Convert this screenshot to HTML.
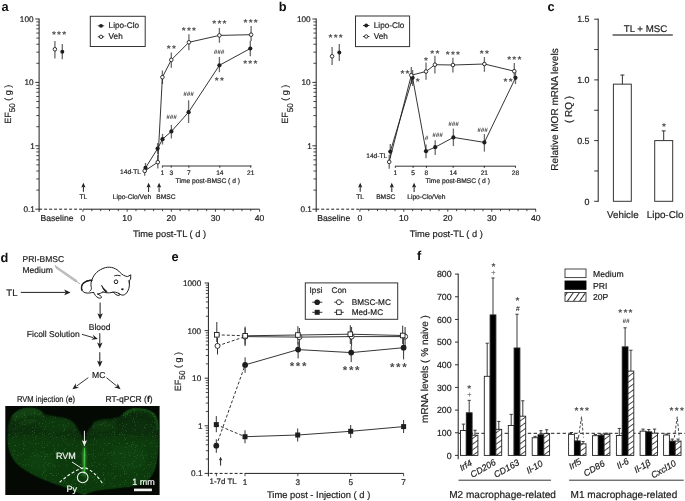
<!DOCTYPE html>
<html><head><meta charset="utf-8"><title>Figure</title>
<style>html,body{margin:0;padding:0;background:#fff;} svg{display:block;font-family:"Liberation Sans",Arial,sans-serif;text-rendering:geometricPrecision;}</style></head>
<body><svg width="685" height="501" viewBox="0 0 685 501">
<rect width="685" height="501" fill="#fff"/>
<text x="1.40" y="10.60" font-size="12.8" text-anchor="start" font-weight="bold" font-style="normal" fill="#111">a</text>
<line x1="39.10" y1="18.50" x2="39.10" y2="212.00" stroke="#1e1e1e" stroke-width="1.0" stroke-linecap="butt"/>
<line x1="36.30" y1="190.11" x2="39.10" y2="190.11" stroke="#1e1e1e" stroke-width="0.8" stroke-linecap="butt"/>
<line x1="36.30" y1="178.95" x2="39.10" y2="178.95" stroke="#1e1e1e" stroke-width="0.8" stroke-linecap="butt"/>
<line x1="36.30" y1="171.03" x2="39.10" y2="171.03" stroke="#1e1e1e" stroke-width="0.8" stroke-linecap="butt"/>
<line x1="36.30" y1="164.89" x2="39.10" y2="164.89" stroke="#1e1e1e" stroke-width="0.8" stroke-linecap="butt"/>
<line x1="36.30" y1="159.87" x2="39.10" y2="159.87" stroke="#1e1e1e" stroke-width="0.8" stroke-linecap="butt"/>
<line x1="36.30" y1="155.62" x2="39.10" y2="155.62" stroke="#1e1e1e" stroke-width="0.8" stroke-linecap="butt"/>
<line x1="36.30" y1="151.94" x2="39.10" y2="151.94" stroke="#1e1e1e" stroke-width="0.8" stroke-linecap="butt"/>
<line x1="36.30" y1="148.70" x2="39.10" y2="148.70" stroke="#1e1e1e" stroke-width="0.8" stroke-linecap="butt"/>
<line x1="36.30" y1="126.71" x2="39.10" y2="126.71" stroke="#1e1e1e" stroke-width="0.8" stroke-linecap="butt"/>
<line x1="36.30" y1="115.55" x2="39.10" y2="115.55" stroke="#1e1e1e" stroke-width="0.8" stroke-linecap="butt"/>
<line x1="36.30" y1="107.63" x2="39.10" y2="107.63" stroke="#1e1e1e" stroke-width="0.8" stroke-linecap="butt"/>
<line x1="36.30" y1="101.49" x2="39.10" y2="101.49" stroke="#1e1e1e" stroke-width="0.8" stroke-linecap="butt"/>
<line x1="36.30" y1="96.47" x2="39.10" y2="96.47" stroke="#1e1e1e" stroke-width="0.8" stroke-linecap="butt"/>
<line x1="36.30" y1="92.22" x2="39.10" y2="92.22" stroke="#1e1e1e" stroke-width="0.8" stroke-linecap="butt"/>
<line x1="36.30" y1="88.54" x2="39.10" y2="88.54" stroke="#1e1e1e" stroke-width="0.8" stroke-linecap="butt"/>
<line x1="36.30" y1="85.30" x2="39.10" y2="85.30" stroke="#1e1e1e" stroke-width="0.8" stroke-linecap="butt"/>
<line x1="36.30" y1="63.31" x2="39.10" y2="63.31" stroke="#1e1e1e" stroke-width="0.8" stroke-linecap="butt"/>
<line x1="36.30" y1="52.15" x2="39.10" y2="52.15" stroke="#1e1e1e" stroke-width="0.8" stroke-linecap="butt"/>
<line x1="36.30" y1="44.23" x2="39.10" y2="44.23" stroke="#1e1e1e" stroke-width="0.8" stroke-linecap="butt"/>
<line x1="36.30" y1="38.09" x2="39.10" y2="38.09" stroke="#1e1e1e" stroke-width="0.8" stroke-linecap="butt"/>
<line x1="36.30" y1="33.07" x2="39.10" y2="33.07" stroke="#1e1e1e" stroke-width="0.8" stroke-linecap="butt"/>
<line x1="36.30" y1="28.82" x2="39.10" y2="28.82" stroke="#1e1e1e" stroke-width="0.8" stroke-linecap="butt"/>
<line x1="36.30" y1="25.14" x2="39.10" y2="25.14" stroke="#1e1e1e" stroke-width="0.8" stroke-linecap="butt"/>
<line x1="36.30" y1="21.90" x2="39.10" y2="21.90" stroke="#1e1e1e" stroke-width="0.8" stroke-linecap="butt"/>
<line x1="35.30" y1="19.00" x2="39.10" y2="19.00" stroke="#1e1e1e" stroke-width="0.9" stroke-linecap="butt"/>
<text x="33.50" y="21.90" font-size="8.2" text-anchor="end" font-weight="normal" font-style="normal" fill="#1e1e1e" stroke="#1e1e1e" stroke-width="0.2">100</text>
<line x1="35.30" y1="82.40" x2="39.10" y2="82.40" stroke="#1e1e1e" stroke-width="0.9" stroke-linecap="butt"/>
<text x="33.50" y="85.30" font-size="8.2" text-anchor="end" font-weight="normal" font-style="normal" fill="#1e1e1e" stroke="#1e1e1e" stroke-width="0.2">10</text>
<line x1="35.30" y1="145.80" x2="39.10" y2="145.80" stroke="#1e1e1e" stroke-width="0.9" stroke-linecap="butt"/>
<text x="34.80" y="148.70" font-size="8.2" text-anchor="end" font-weight="normal" font-style="normal" fill="#1e1e1e" stroke="#1e1e1e" stroke-width="0.2">1</text>
<line x1="35.30" y1="209.20" x2="39.10" y2="209.20" stroke="#1e1e1e" stroke-width="0.9" stroke-linecap="butt"/>
<text x="34.80" y="212.10" font-size="8.2" text-anchor="end" font-weight="normal" font-style="normal" fill="#1e1e1e" stroke="#1e1e1e" stroke-width="0.2">0.1</text>
<line x1="39.10" y1="209.20" x2="83.00" y2="209.20" stroke="#1e1e1e" stroke-width="1.0" stroke-dasharray="3,2" stroke-linecap="butt"/>
<line x1="83.00" y1="209.20" x2="259.60" y2="209.20" stroke="#1e1e1e" stroke-width="1.0" stroke-linecap="butt"/>
<line x1="83.00" y1="209.20" x2="83.00" y2="211.80" stroke="#1e1e1e" stroke-width="0.8" stroke-linecap="butt"/>
<line x1="91.83" y1="209.20" x2="91.83" y2="211.20" stroke="#1e1e1e" stroke-width="0.8" stroke-linecap="butt"/>
<line x1="100.66" y1="209.20" x2="100.66" y2="211.20" stroke="#1e1e1e" stroke-width="0.8" stroke-linecap="butt"/>
<line x1="109.49" y1="209.20" x2="109.49" y2="211.20" stroke="#1e1e1e" stroke-width="0.8" stroke-linecap="butt"/>
<line x1="118.32" y1="209.20" x2="118.32" y2="211.20" stroke="#1e1e1e" stroke-width="0.8" stroke-linecap="butt"/>
<line x1="127.15" y1="209.20" x2="127.15" y2="211.80" stroke="#1e1e1e" stroke-width="0.8" stroke-linecap="butt"/>
<line x1="135.98" y1="209.20" x2="135.98" y2="211.20" stroke="#1e1e1e" stroke-width="0.8" stroke-linecap="butt"/>
<line x1="144.81" y1="209.20" x2="144.81" y2="211.20" stroke="#1e1e1e" stroke-width="0.8" stroke-linecap="butt"/>
<line x1="153.64" y1="209.20" x2="153.64" y2="211.20" stroke="#1e1e1e" stroke-width="0.8" stroke-linecap="butt"/>
<line x1="162.47" y1="209.20" x2="162.47" y2="211.20" stroke="#1e1e1e" stroke-width="0.8" stroke-linecap="butt"/>
<line x1="171.30" y1="209.20" x2="171.30" y2="211.80" stroke="#1e1e1e" stroke-width="0.8" stroke-linecap="butt"/>
<line x1="180.13" y1="209.20" x2="180.13" y2="211.20" stroke="#1e1e1e" stroke-width="0.8" stroke-linecap="butt"/>
<line x1="188.96" y1="209.20" x2="188.96" y2="211.20" stroke="#1e1e1e" stroke-width="0.8" stroke-linecap="butt"/>
<line x1="197.79" y1="209.20" x2="197.79" y2="211.20" stroke="#1e1e1e" stroke-width="0.8" stroke-linecap="butt"/>
<line x1="206.62" y1="209.20" x2="206.62" y2="211.20" stroke="#1e1e1e" stroke-width="0.8" stroke-linecap="butt"/>
<line x1="215.45" y1="209.20" x2="215.45" y2="211.80" stroke="#1e1e1e" stroke-width="0.8" stroke-linecap="butt"/>
<line x1="224.28" y1="209.20" x2="224.28" y2="211.20" stroke="#1e1e1e" stroke-width="0.8" stroke-linecap="butt"/>
<line x1="233.11" y1="209.20" x2="233.11" y2="211.20" stroke="#1e1e1e" stroke-width="0.8" stroke-linecap="butt"/>
<line x1="241.94" y1="209.20" x2="241.94" y2="211.20" stroke="#1e1e1e" stroke-width="0.8" stroke-linecap="butt"/>
<line x1="250.77" y1="209.20" x2="250.77" y2="211.20" stroke="#1e1e1e" stroke-width="0.8" stroke-linecap="butt"/>
<line x1="259.60" y1="209.20" x2="259.60" y2="211.80" stroke="#1e1e1e" stroke-width="0.8" stroke-linecap="butt"/>
<text x="83.00" y="221.20" font-size="8.6" text-anchor="middle" font-weight="normal" font-style="normal" fill="#1e1e1e" stroke="#1e1e1e" stroke-width="0.2">0</text>
<text x="127.15" y="221.20" font-size="8.6" text-anchor="middle" font-weight="normal" font-style="normal" fill="#1e1e1e" stroke="#1e1e1e" stroke-width="0.2">10</text>
<text x="171.30" y="221.20" font-size="8.6" text-anchor="middle" font-weight="normal" font-style="normal" fill="#1e1e1e" stroke="#1e1e1e" stroke-width="0.2">20</text>
<text x="215.45" y="221.20" font-size="8.6" text-anchor="middle" font-weight="normal" font-style="normal" fill="#1e1e1e" stroke="#1e1e1e" stroke-width="0.2">30</text>
<text x="259.60" y="221.20" font-size="8.6" text-anchor="middle" font-weight="normal" font-style="normal" fill="#1e1e1e" stroke="#1e1e1e" stroke-width="0.2">40</text>
<text x="57.00" y="221.20" font-size="8.6" text-anchor="middle" font-weight="normal" font-style="normal" fill="#1e1e1e" stroke="#1e1e1e" stroke-width="0.2">Baseline</text>
<text transform="translate(11.30,104.2) rotate(-90)" font-size="9" text-anchor="middle" fill="#1e1e1e" stroke="#1e1e1e" stroke-width="0.2">EF<tspan font-size="8.2" dy="4.1">50</tspan><tspan dy="-4.1"> ( g )</tspan></text>
<rect x="90.30" y="16.30" width="54.90" height="30.20" fill="none" stroke="#333" stroke-width="1.0"/>
<line x1="97.80" y1="25.80" x2="104.20" y2="25.80" stroke="#1e1e1e" stroke-width="0.9" stroke-linecap="butt"/>
<circle cx="101.00" cy="25.80" r="1.9" fill="#1e1e1e"/>
<line x1="97.80" y1="36.80" x2="104.20" y2="36.80" stroke="#1e1e1e" stroke-width="0.9" stroke-linecap="butt"/>
<circle cx="101.00" cy="36.80" r="1.7" fill="#fff" stroke="#1e1e1e" stroke-width="0.9"/>
<text x="108.60" y="27.90" font-size="8.2" text-anchor="start" font-weight="normal" font-style="normal" fill="#1e1e1e" stroke="#1e1e1e" stroke-width="0.2">Lipo-Clo</text>
<text x="108.60" y="38.90" font-size="8.2" text-anchor="start" font-weight="normal" font-style="normal" fill="#1e1e1e" stroke="#1e1e1e" stroke-width="0.2">Veh</text>
<line x1="83.40" y1="191.80" x2="83.40" y2="186.80" stroke="#1e1e1e" stroke-width="1.0" stroke-linecap="butt"/>
<path d="M83.40,182.80 L81.30,187.60 L83.40,186.64 L85.50,187.60 Z" fill="#1e1e1e"/>
<text x="83.40" y="199.20" font-size="6.7" text-anchor="middle" font-weight="normal" font-style="normal" fill="#1e1e1e" stroke="#1e1e1e" stroke-width="0.2">TL</text>
<line x1="148.60" y1="192.00" x2="148.60" y2="186.80" stroke="#1e1e1e" stroke-width="1.0" stroke-linecap="butt"/>
<path d="M148.60,182.80 L146.50,187.60 L148.60,186.64 L150.70,187.60 Z" fill="#1e1e1e"/>
<line x1="159.10" y1="192.00" x2="159.10" y2="186.80" stroke="#1e1e1e" stroke-width="1.0" stroke-linecap="butt"/>
<path d="M159.10,182.80 L157.00,187.60 L159.10,186.64 L161.20,187.60 Z" fill="#1e1e1e"/>
<text x="132.00" y="199.20" font-size="6.7" text-anchor="middle" font-weight="normal" font-style="normal" fill="#1e1e1e" stroke="#1e1e1e" stroke-width="0.2">Lipo-Clo/Veh</text>
<text x="166.00" y="199.20" font-size="6.7" text-anchor="middle" font-weight="normal" font-style="normal" fill="#1e1e1e" stroke="#1e1e1e" stroke-width="0.2">BMSC</text>
<line x1="162.40" y1="166.00" x2="251.50" y2="166.00" stroke="#1e1e1e" stroke-width="0.9" stroke-linecap="butt"/>
<line x1="162.40" y1="165.60" x2="162.40" y2="167.80" stroke="#1e1e1e" stroke-width="0.8" stroke-linecap="butt"/>
<text x="162.40" y="175.00" font-size="6.6" text-anchor="middle" font-weight="normal" font-style="normal" fill="#1e1e1e" stroke="#1e1e1e" stroke-width="0.2">1</text>
<line x1="171.23" y1="165.60" x2="171.23" y2="167.80" stroke="#1e1e1e" stroke-width="0.8" stroke-linecap="butt"/>
<text x="171.23" y="175.00" font-size="6.6" text-anchor="middle" font-weight="normal" font-style="normal" fill="#1e1e1e" stroke="#1e1e1e" stroke-width="0.2">3</text>
<line x1="188.89" y1="165.60" x2="188.89" y2="167.80" stroke="#1e1e1e" stroke-width="0.8" stroke-linecap="butt"/>
<text x="188.89" y="175.00" font-size="6.6" text-anchor="middle" font-weight="normal" font-style="normal" fill="#1e1e1e" stroke="#1e1e1e" stroke-width="0.2">7</text>
<line x1="219.80" y1="165.60" x2="219.80" y2="167.80" stroke="#1e1e1e" stroke-width="0.8" stroke-linecap="butt"/>
<text x="219.80" y="175.00" font-size="6.6" text-anchor="middle" font-weight="normal" font-style="normal" fill="#1e1e1e" stroke="#1e1e1e" stroke-width="0.2">14</text>
<line x1="250.70" y1="165.60" x2="250.70" y2="167.80" stroke="#1e1e1e" stroke-width="0.8" stroke-linecap="butt"/>
<text x="250.70" y="175.00" font-size="6.6" text-anchor="middle" font-weight="normal" font-style="normal" fill="#1e1e1e" stroke="#1e1e1e" stroke-width="0.2">21</text>
<text x="207.80" y="183.10" font-size="6.7" text-anchor="middle" font-weight="normal" font-style="normal" fill="#1e1e1e" stroke="#1e1e1e" stroke-width="0.2">Time post-BMSC ( d )</text>
<text x="141.00" y="173.90" font-size="6.6" text-anchor="end" font-weight="normal" font-style="normal" fill="#1e1e1e" stroke="#1e1e1e" stroke-width="0.2">14d-TL</text>
<text x="169.50" y="237.20" font-size="9.3" text-anchor="middle" font-weight="normal" font-style="normal" fill="#1e1e1e" stroke="#1e1e1e" stroke-width="0.2">Time post-TL ( d )</text>
<line x1="144.70" y1="166.00" x2="144.70" y2="175.70" stroke="#6a6a6a" stroke-width="1.3" stroke-linecap="butt"/>
<line x1="157.80" y1="155.00" x2="157.80" y2="168.50" stroke="#6a6a6a" stroke-width="1.3" stroke-linecap="butt"/>
<line x1="162.40" y1="70.50" x2="162.40" y2="84.00" stroke="#6a6a6a" stroke-width="1.3" stroke-linecap="butt"/>
<line x1="171.30" y1="52.40" x2="171.30" y2="67.70" stroke="#6a6a6a" stroke-width="1.3" stroke-linecap="butt"/>
<line x1="188.90" y1="34.20" x2="188.90" y2="50.30" stroke="#6a6a6a" stroke-width="1.3" stroke-linecap="butt"/>
<line x1="219.40" y1="27.90" x2="219.40" y2="42.80" stroke="#6a6a6a" stroke-width="1.3" stroke-linecap="butt"/>
<line x1="251.10" y1="26.00" x2="251.10" y2="41.00" stroke="#6a6a6a" stroke-width="1.3" stroke-linecap="butt"/>
<line x1="145.50" y1="163.00" x2="145.50" y2="172.00" stroke="#6a6a6a" stroke-width="1.3" stroke-linecap="butt"/>
<line x1="157.60" y1="143.00" x2="157.60" y2="154.00" stroke="#6a6a6a" stroke-width="1.3" stroke-linecap="butt"/>
<line x1="162.50" y1="133.80" x2="162.50" y2="144.50" stroke="#6a6a6a" stroke-width="1.3" stroke-linecap="butt"/>
<line x1="171.40" y1="124.90" x2="171.40" y2="138.50" stroke="#6a6a6a" stroke-width="1.3" stroke-linecap="butt"/>
<line x1="188.60" y1="100.30" x2="188.60" y2="123.00" stroke="#6a6a6a" stroke-width="1.3" stroke-linecap="butt"/>
<line x1="219.40" y1="56.90" x2="219.40" y2="72.20" stroke="#6a6a6a" stroke-width="1.3" stroke-linecap="butt"/>
<line x1="250.30" y1="40.70" x2="250.30" y2="56.30" stroke="#6a6a6a" stroke-width="1.3" stroke-linecap="butt"/>
<polyline points="144.70,170.90 157.80,162.20 162.40,77.20 171.30,59.90 188.90,42.30 219.40,35.40 251.10,34.70" fill="none" stroke="#1e1e1e" stroke-width="0.9" stroke-linejoin="round"/>
<polyline points="145.50,167.90 157.60,148.60 162.50,139.20 171.40,131.40 188.60,112.20 219.40,65.30 250.30,48.50" fill="none" stroke="#1e1e1e" stroke-width="0.9" stroke-linejoin="round"/>
<circle cx="145.50" cy="167.90" r="2.1" fill="#1e1e1e"/>
<circle cx="157.60" cy="148.60" r="2.1" fill="#1e1e1e"/>
<circle cx="162.50" cy="139.20" r="2.1" fill="#1e1e1e"/>
<circle cx="171.40" cy="131.40" r="2.1" fill="#1e1e1e"/>
<circle cx="188.60" cy="112.20" r="2.1" fill="#1e1e1e"/>
<circle cx="219.40" cy="65.30" r="2.1" fill="#1e1e1e"/>
<circle cx="250.30" cy="48.50" r="2.1" fill="#1e1e1e"/>
<circle cx="144.70" cy="170.90" r="1.8" fill="#fff" stroke="#1e1e1e" stroke-width="0.9"/>
<circle cx="157.80" cy="162.20" r="1.8" fill="#fff" stroke="#1e1e1e" stroke-width="0.9"/>
<circle cx="162.40" cy="77.20" r="1.8" fill="#fff" stroke="#1e1e1e" stroke-width="0.9"/>
<circle cx="171.30" cy="59.90" r="1.8" fill="#fff" stroke="#1e1e1e" stroke-width="0.9"/>
<circle cx="188.90" cy="42.30" r="1.8" fill="#fff" stroke="#1e1e1e" stroke-width="0.9"/>
<circle cx="219.40" cy="35.40" r="1.8" fill="#fff" stroke="#1e1e1e" stroke-width="0.9"/>
<circle cx="251.10" cy="34.70" r="1.8" fill="#fff" stroke="#1e1e1e" stroke-width="0.9"/>
<line x1="54.90" y1="40.90" x2="54.90" y2="58.50" stroke="#6a6a6a" stroke-width="1.3" stroke-linecap="butt"/>
<circle cx="54.90" cy="49.30" r="1.8" fill="#fff" stroke="#1e1e1e" stroke-width="0.9"/>
<line x1="62.30" y1="44.10" x2="62.30" y2="59.30" stroke="#6a6a6a" stroke-width="1.3" stroke-linecap="butt"/>
<circle cx="62.30" cy="51.70" r="2.0" fill="#1e1e1e"/>
<text x="59.63" y="37.95" font-size="10" text-anchor="middle" font-weight="bold" font-style="normal" fill="#4a4a4a" letter-spacing="1.26">***</text>
<text x="171.93" y="52.45" font-size="10" text-anchor="middle" font-weight="bold" font-style="normal" fill="#4a4a4a" letter-spacing="1.26">**</text>
<text x="189.53" y="34.25" font-size="10" text-anchor="middle" font-weight="bold" font-style="normal" fill="#4a4a4a" letter-spacing="1.26">***</text>
<text x="220.03" y="27.05" font-size="10" text-anchor="middle" font-weight="bold" font-style="normal" fill="#4a4a4a" letter-spacing="1.26">***</text>
<text x="251.23" y="26.15" font-size="10" text-anchor="middle" font-weight="bold" font-style="normal" fill="#4a4a4a" letter-spacing="1.26">***</text>
<text x="220.03" y="84.05" font-size="10" text-anchor="middle" font-weight="bold" font-style="normal" fill="#4a4a4a" letter-spacing="1.26">**</text>
<text x="250.93" y="66.65" font-size="10" text-anchor="middle" font-weight="bold" font-style="normal" fill="#4a4a4a" letter-spacing="1.26">***</text>
<text x="219.10" y="54.30" font-size="6.3" text-anchor="middle" font-weight="bold" font-style="italic" fill="#222">###</text>
<text x="171.40" y="119.30" font-size="6.3" text-anchor="middle" font-weight="bold" font-style="italic" fill="#222">###</text>
<text x="188.60" y="96.41" font-size="6.3" text-anchor="middle" font-weight="bold" font-style="italic" fill="#222">###</text>
<text x="278.70" y="10.60" font-size="12.8" text-anchor="start" font-weight="bold" font-style="normal" fill="#111">b</text>
<line x1="316.20" y1="18.50" x2="316.20" y2="212.00" stroke="#1e1e1e" stroke-width="1.0" stroke-linecap="butt"/>
<line x1="313.40" y1="190.11" x2="316.20" y2="190.11" stroke="#1e1e1e" stroke-width="0.8" stroke-linecap="butt"/>
<line x1="313.40" y1="178.95" x2="316.20" y2="178.95" stroke="#1e1e1e" stroke-width="0.8" stroke-linecap="butt"/>
<line x1="313.40" y1="171.03" x2="316.20" y2="171.03" stroke="#1e1e1e" stroke-width="0.8" stroke-linecap="butt"/>
<line x1="313.40" y1="164.89" x2="316.20" y2="164.89" stroke="#1e1e1e" stroke-width="0.8" stroke-linecap="butt"/>
<line x1="313.40" y1="159.87" x2="316.20" y2="159.87" stroke="#1e1e1e" stroke-width="0.8" stroke-linecap="butt"/>
<line x1="313.40" y1="155.62" x2="316.20" y2="155.62" stroke="#1e1e1e" stroke-width="0.8" stroke-linecap="butt"/>
<line x1="313.40" y1="151.94" x2="316.20" y2="151.94" stroke="#1e1e1e" stroke-width="0.8" stroke-linecap="butt"/>
<line x1="313.40" y1="148.70" x2="316.20" y2="148.70" stroke="#1e1e1e" stroke-width="0.8" stroke-linecap="butt"/>
<line x1="313.40" y1="126.71" x2="316.20" y2="126.71" stroke="#1e1e1e" stroke-width="0.8" stroke-linecap="butt"/>
<line x1="313.40" y1="115.55" x2="316.20" y2="115.55" stroke="#1e1e1e" stroke-width="0.8" stroke-linecap="butt"/>
<line x1="313.40" y1="107.63" x2="316.20" y2="107.63" stroke="#1e1e1e" stroke-width="0.8" stroke-linecap="butt"/>
<line x1="313.40" y1="101.49" x2="316.20" y2="101.49" stroke="#1e1e1e" stroke-width="0.8" stroke-linecap="butt"/>
<line x1="313.40" y1="96.47" x2="316.20" y2="96.47" stroke="#1e1e1e" stroke-width="0.8" stroke-linecap="butt"/>
<line x1="313.40" y1="92.22" x2="316.20" y2="92.22" stroke="#1e1e1e" stroke-width="0.8" stroke-linecap="butt"/>
<line x1="313.40" y1="88.54" x2="316.20" y2="88.54" stroke="#1e1e1e" stroke-width="0.8" stroke-linecap="butt"/>
<line x1="313.40" y1="85.30" x2="316.20" y2="85.30" stroke="#1e1e1e" stroke-width="0.8" stroke-linecap="butt"/>
<line x1="313.40" y1="63.31" x2="316.20" y2="63.31" stroke="#1e1e1e" stroke-width="0.8" stroke-linecap="butt"/>
<line x1="313.40" y1="52.15" x2="316.20" y2="52.15" stroke="#1e1e1e" stroke-width="0.8" stroke-linecap="butt"/>
<line x1="313.40" y1="44.23" x2="316.20" y2="44.23" stroke="#1e1e1e" stroke-width="0.8" stroke-linecap="butt"/>
<line x1="313.40" y1="38.09" x2="316.20" y2="38.09" stroke="#1e1e1e" stroke-width="0.8" stroke-linecap="butt"/>
<line x1="313.40" y1="33.07" x2="316.20" y2="33.07" stroke="#1e1e1e" stroke-width="0.8" stroke-linecap="butt"/>
<line x1="313.40" y1="28.82" x2="316.20" y2="28.82" stroke="#1e1e1e" stroke-width="0.8" stroke-linecap="butt"/>
<line x1="313.40" y1="25.14" x2="316.20" y2="25.14" stroke="#1e1e1e" stroke-width="0.8" stroke-linecap="butt"/>
<line x1="313.40" y1="21.90" x2="316.20" y2="21.90" stroke="#1e1e1e" stroke-width="0.8" stroke-linecap="butt"/>
<line x1="312.40" y1="19.00" x2="316.20" y2="19.00" stroke="#1e1e1e" stroke-width="0.9" stroke-linecap="butt"/>
<text x="310.60" y="21.90" font-size="8.2" text-anchor="end" font-weight="normal" font-style="normal" fill="#1e1e1e" stroke="#1e1e1e" stroke-width="0.2">100</text>
<line x1="312.40" y1="82.40" x2="316.20" y2="82.40" stroke="#1e1e1e" stroke-width="0.9" stroke-linecap="butt"/>
<text x="310.60" y="85.30" font-size="8.2" text-anchor="end" font-weight="normal" font-style="normal" fill="#1e1e1e" stroke="#1e1e1e" stroke-width="0.2">10</text>
<line x1="312.40" y1="145.80" x2="316.20" y2="145.80" stroke="#1e1e1e" stroke-width="0.9" stroke-linecap="butt"/>
<text x="311.90" y="148.70" font-size="8.2" text-anchor="end" font-weight="normal" font-style="normal" fill="#1e1e1e" stroke="#1e1e1e" stroke-width="0.2">1</text>
<line x1="312.40" y1="209.20" x2="316.20" y2="209.20" stroke="#1e1e1e" stroke-width="0.9" stroke-linecap="butt"/>
<text x="311.90" y="212.10" font-size="8.2" text-anchor="end" font-weight="normal" font-style="normal" fill="#1e1e1e" stroke="#1e1e1e" stroke-width="0.2">0.1</text>
<line x1="316.20" y1="209.20" x2="359.90" y2="209.20" stroke="#1e1e1e" stroke-width="1.0" stroke-dasharray="3,2" stroke-linecap="butt"/>
<line x1="359.90" y1="209.20" x2="536.00" y2="209.20" stroke="#1e1e1e" stroke-width="1.0" stroke-linecap="butt"/>
<line x1="359.90" y1="209.20" x2="359.90" y2="211.80" stroke="#1e1e1e" stroke-width="0.8" stroke-linecap="butt"/>
<line x1="368.69" y1="209.20" x2="368.69" y2="211.20" stroke="#1e1e1e" stroke-width="0.8" stroke-linecap="butt"/>
<line x1="377.48" y1="209.20" x2="377.48" y2="211.20" stroke="#1e1e1e" stroke-width="0.8" stroke-linecap="butt"/>
<line x1="386.27" y1="209.20" x2="386.27" y2="211.20" stroke="#1e1e1e" stroke-width="0.8" stroke-linecap="butt"/>
<line x1="395.06" y1="209.20" x2="395.06" y2="211.20" stroke="#1e1e1e" stroke-width="0.8" stroke-linecap="butt"/>
<line x1="403.85" y1="209.20" x2="403.85" y2="211.80" stroke="#1e1e1e" stroke-width="0.8" stroke-linecap="butt"/>
<line x1="412.64" y1="209.20" x2="412.64" y2="211.20" stroke="#1e1e1e" stroke-width="0.8" stroke-linecap="butt"/>
<line x1="421.43" y1="209.20" x2="421.43" y2="211.20" stroke="#1e1e1e" stroke-width="0.8" stroke-linecap="butt"/>
<line x1="430.22" y1="209.20" x2="430.22" y2="211.20" stroke="#1e1e1e" stroke-width="0.8" stroke-linecap="butt"/>
<line x1="439.01" y1="209.20" x2="439.01" y2="211.20" stroke="#1e1e1e" stroke-width="0.8" stroke-linecap="butt"/>
<line x1="447.80" y1="209.20" x2="447.80" y2="211.80" stroke="#1e1e1e" stroke-width="0.8" stroke-linecap="butt"/>
<line x1="456.59" y1="209.20" x2="456.59" y2="211.20" stroke="#1e1e1e" stroke-width="0.8" stroke-linecap="butt"/>
<line x1="465.38" y1="209.20" x2="465.38" y2="211.20" stroke="#1e1e1e" stroke-width="0.8" stroke-linecap="butt"/>
<line x1="474.17" y1="209.20" x2="474.17" y2="211.20" stroke="#1e1e1e" stroke-width="0.8" stroke-linecap="butt"/>
<line x1="482.96" y1="209.20" x2="482.96" y2="211.20" stroke="#1e1e1e" stroke-width="0.8" stroke-linecap="butt"/>
<line x1="491.75" y1="209.20" x2="491.75" y2="211.80" stroke="#1e1e1e" stroke-width="0.8" stroke-linecap="butt"/>
<line x1="500.54" y1="209.20" x2="500.54" y2="211.20" stroke="#1e1e1e" stroke-width="0.8" stroke-linecap="butt"/>
<line x1="509.33" y1="209.20" x2="509.33" y2="211.20" stroke="#1e1e1e" stroke-width="0.8" stroke-linecap="butt"/>
<line x1="518.12" y1="209.20" x2="518.12" y2="211.20" stroke="#1e1e1e" stroke-width="0.8" stroke-linecap="butt"/>
<line x1="526.91" y1="209.20" x2="526.91" y2="211.20" stroke="#1e1e1e" stroke-width="0.8" stroke-linecap="butt"/>
<line x1="535.70" y1="209.20" x2="535.70" y2="211.80" stroke="#1e1e1e" stroke-width="0.8" stroke-linecap="butt"/>
<text x="359.90" y="221.20" font-size="8.6" text-anchor="middle" font-weight="normal" font-style="normal" fill="#1e1e1e" stroke="#1e1e1e" stroke-width="0.2">0</text>
<text x="403.85" y="221.20" font-size="8.6" text-anchor="middle" font-weight="normal" font-style="normal" fill="#1e1e1e" stroke="#1e1e1e" stroke-width="0.2">10</text>
<text x="447.80" y="221.20" font-size="8.6" text-anchor="middle" font-weight="normal" font-style="normal" fill="#1e1e1e" stroke="#1e1e1e" stroke-width="0.2">20</text>
<text x="491.75" y="221.20" font-size="8.6" text-anchor="middle" font-weight="normal" font-style="normal" fill="#1e1e1e" stroke="#1e1e1e" stroke-width="0.2">30</text>
<text x="535.70" y="221.20" font-size="8.6" text-anchor="middle" font-weight="normal" font-style="normal" fill="#1e1e1e" stroke="#1e1e1e" stroke-width="0.2">40</text>
<text x="333.70" y="221.20" font-size="8.6" text-anchor="middle" font-weight="normal" font-style="normal" fill="#1e1e1e" stroke="#1e1e1e" stroke-width="0.2">Baseline</text>
<text transform="translate(288.40,104.2) rotate(-90)" font-size="9" text-anchor="middle" fill="#1e1e1e" stroke="#1e1e1e" stroke-width="0.2">EF<tspan font-size="8.2" dy="4.1">50</tspan><tspan dy="-4.1"> ( g )</tspan></text>
<rect x="355.50" y="16.00" width="54.10" height="30.60" fill="none" stroke="#333" stroke-width="1.0"/>
<line x1="363.00" y1="25.50" x2="369.40" y2="25.50" stroke="#1e1e1e" stroke-width="0.9" stroke-linecap="butt"/>
<circle cx="366.20" cy="25.50" r="1.9" fill="#1e1e1e"/>
<line x1="363.00" y1="36.50" x2="369.40" y2="36.50" stroke="#1e1e1e" stroke-width="0.9" stroke-linecap="butt"/>
<circle cx="366.20" cy="36.50" r="1.7" fill="#fff" stroke="#1e1e1e" stroke-width="0.9"/>
<text x="373.80" y="27.60" font-size="8.2" text-anchor="start" font-weight="normal" font-style="normal" fill="#1e1e1e" stroke="#1e1e1e" stroke-width="0.2">Lipo-Clo</text>
<text x="373.80" y="38.60" font-size="8.2" text-anchor="start" font-weight="normal" font-style="normal" fill="#1e1e1e" stroke="#1e1e1e" stroke-width="0.2">Veh</text>
<line x1="360.20" y1="191.80" x2="360.20" y2="186.80" stroke="#1e1e1e" stroke-width="1.0" stroke-linecap="butt"/>
<path d="M360.20,182.80 L358.10,187.60 L360.20,186.64 L362.30,187.60 Z" fill="#1e1e1e"/>
<text x="360.20" y="199.20" font-size="6.7" text-anchor="middle" font-weight="normal" font-style="normal" fill="#1e1e1e" stroke="#1e1e1e" stroke-width="0.2">TL</text>
<line x1="391.80" y1="192.00" x2="391.80" y2="186.80" stroke="#1e1e1e" stroke-width="1.0" stroke-linecap="butt"/>
<path d="M391.80,182.80 L389.70,187.60 L391.80,186.64 L393.90,187.60 Z" fill="#1e1e1e"/>
<text x="385.80" y="199.20" font-size="6.7" text-anchor="middle" font-weight="normal" font-style="normal" fill="#1e1e1e" stroke="#1e1e1e" stroke-width="0.2">BMSC</text>
<line x1="414.10" y1="192.00" x2="414.10" y2="186.80" stroke="#1e1e1e" stroke-width="1.0" stroke-linecap="butt"/>
<path d="M414.10,182.80 L412.00,187.60 L414.10,186.64 L416.20,187.60 Z" fill="#1e1e1e"/>
<text x="407.20" y="199.20" font-size="6.7" text-anchor="start" font-weight="normal" font-style="normal" fill="#1e1e1e" stroke="#1e1e1e" stroke-width="0.2">Lipo-Clo/Veh</text>
<line x1="395.30" y1="166.20" x2="515.50" y2="166.20" stroke="#1e1e1e" stroke-width="0.9" stroke-linecap="butt"/>
<line x1="395.30" y1="165.80" x2="395.30" y2="168.00" stroke="#1e1e1e" stroke-width="0.8" stroke-linecap="butt"/>
<text x="395.30" y="175.20" font-size="6.6" text-anchor="middle" font-weight="normal" font-style="normal" fill="#1e1e1e" stroke="#1e1e1e" stroke-width="0.2">1</text>
<line x1="413.10" y1="165.80" x2="413.10" y2="168.00" stroke="#1e1e1e" stroke-width="0.8" stroke-linecap="butt"/>
<text x="413.10" y="175.20" font-size="6.6" text-anchor="middle" font-weight="normal" font-style="normal" fill="#1e1e1e" stroke="#1e1e1e" stroke-width="0.2">5</text>
<line x1="426.45" y1="165.80" x2="426.45" y2="168.00" stroke="#1e1e1e" stroke-width="0.8" stroke-linecap="butt"/>
<text x="426.45" y="175.20" font-size="6.6" text-anchor="middle" font-weight="normal" font-style="normal" fill="#1e1e1e" stroke="#1e1e1e" stroke-width="0.2">8</text>
<line x1="453.15" y1="165.80" x2="453.15" y2="168.00" stroke="#1e1e1e" stroke-width="0.8" stroke-linecap="butt"/>
<text x="453.15" y="175.20" font-size="6.6" text-anchor="middle" font-weight="normal" font-style="normal" fill="#1e1e1e" stroke="#1e1e1e" stroke-width="0.2">14</text>
<line x1="484.30" y1="165.80" x2="484.30" y2="168.00" stroke="#1e1e1e" stroke-width="0.8" stroke-linecap="butt"/>
<text x="484.30" y="175.20" font-size="6.6" text-anchor="middle" font-weight="normal" font-style="normal" fill="#1e1e1e" stroke="#1e1e1e" stroke-width="0.2">21</text>
<line x1="515.45" y1="165.80" x2="515.45" y2="168.00" stroke="#1e1e1e" stroke-width="0.8" stroke-linecap="butt"/>
<text x="515.45" y="175.20" font-size="6.6" text-anchor="middle" font-weight="normal" font-style="normal" fill="#1e1e1e" stroke="#1e1e1e" stroke-width="0.2">28</text>
<text x="457.70" y="182.60" font-size="6.7" text-anchor="middle" font-weight="normal" font-style="normal" fill="#1e1e1e" stroke="#1e1e1e" stroke-width="0.2">Time post-BMSC ( d )</text>
<text x="387.20" y="158.30" font-size="6.6" text-anchor="end" font-weight="normal" font-style="normal" fill="#1e1e1e" stroke="#1e1e1e" stroke-width="0.2">14d-TL</text>
<text x="446.30" y="237.20" font-size="9.3" text-anchor="middle" font-weight="normal" font-style="normal" fill="#1e1e1e" stroke="#1e1e1e" stroke-width="0.2">Time post-TL ( d )</text>
<line x1="389.20" y1="155.00" x2="389.20" y2="168.70" stroke="#6a6a6a" stroke-width="1.3" stroke-linecap="butt"/>
<line x1="411.30" y1="66.90" x2="411.30" y2="84.00" stroke="#6a6a6a" stroke-width="1.3" stroke-linecap="butt"/>
<line x1="426.00" y1="62.60" x2="426.00" y2="79.70" stroke="#6a6a6a" stroke-width="1.3" stroke-linecap="butt"/>
<line x1="434.90" y1="55.80" x2="434.90" y2="73.50" stroke="#6a6a6a" stroke-width="1.3" stroke-linecap="butt"/>
<line x1="452.90" y1="57.70" x2="452.90" y2="72.60" stroke="#6a6a6a" stroke-width="1.3" stroke-linecap="butt"/>
<line x1="484.40" y1="57.00" x2="484.40" y2="71.80" stroke="#6a6a6a" stroke-width="1.3" stroke-linecap="butt"/>
<line x1="514.30" y1="63.00" x2="514.30" y2="78.00" stroke="#6a6a6a" stroke-width="1.3" stroke-linecap="butt"/>
<line x1="390.30" y1="143.90" x2="390.30" y2="158.00" stroke="#6a6a6a" stroke-width="1.3" stroke-linecap="butt"/>
<line x1="412.60" y1="70.00" x2="412.60" y2="86.00" stroke="#6a6a6a" stroke-width="1.3" stroke-linecap="butt"/>
<line x1="426.00" y1="144.60" x2="426.00" y2="158.20" stroke="#6a6a6a" stroke-width="1.3" stroke-linecap="butt"/>
<line x1="435.20" y1="140.20" x2="435.20" y2="154.90" stroke="#6a6a6a" stroke-width="1.3" stroke-linecap="butt"/>
<line x1="453.40" y1="128.60" x2="453.40" y2="146.10" stroke="#6a6a6a" stroke-width="1.3" stroke-linecap="butt"/>
<line x1="484.40" y1="134.10" x2="484.40" y2="151.60" stroke="#6a6a6a" stroke-width="1.3" stroke-linecap="butt"/>
<line x1="515.50" y1="71.00" x2="515.50" y2="84.10" stroke="#6a6a6a" stroke-width="1.3" stroke-linecap="butt"/>
<polyline points="389.20,161.90 411.30,75.20 426.00,71.50 434.90,64.70 452.90,65.00 484.40,64.00 514.30,71.20" fill="none" stroke="#1e1e1e" stroke-width="0.9" stroke-linejoin="round"/>
<polyline points="390.30,151.60 412.60,77.80 426.00,151.20 435.20,147.20 453.40,137.40 484.40,142.40 515.50,77.80" fill="none" stroke="#1e1e1e" stroke-width="0.9" stroke-linejoin="round"/>
<circle cx="390.30" cy="151.60" r="2.1" fill="#1e1e1e"/>
<circle cx="412.60" cy="77.80" r="2.1" fill="#1e1e1e"/>
<circle cx="426.00" cy="151.20" r="2.1" fill="#1e1e1e"/>
<circle cx="435.20" cy="147.20" r="2.1" fill="#1e1e1e"/>
<circle cx="453.40" cy="137.40" r="2.1" fill="#1e1e1e"/>
<circle cx="484.40" cy="142.40" r="2.1" fill="#1e1e1e"/>
<circle cx="515.50" cy="77.80" r="2.1" fill="#1e1e1e"/>
<circle cx="389.20" cy="161.90" r="1.8" fill="#fff" stroke="#1e1e1e" stroke-width="0.9"/>
<circle cx="411.30" cy="75.20" r="1.8" fill="#fff" stroke="#1e1e1e" stroke-width="0.9"/>
<circle cx="426.00" cy="71.50" r="1.8" fill="#fff" stroke="#1e1e1e" stroke-width="0.9"/>
<circle cx="434.90" cy="64.70" r="1.8" fill="#fff" stroke="#1e1e1e" stroke-width="0.9"/>
<circle cx="452.90" cy="65.00" r="1.8" fill="#fff" stroke="#1e1e1e" stroke-width="0.9"/>
<circle cx="484.40" cy="64.00" r="1.8" fill="#fff" stroke="#1e1e1e" stroke-width="0.9"/>
<circle cx="514.30" cy="71.20" r="1.8" fill="#fff" stroke="#1e1e1e" stroke-width="0.9"/>
<line x1="332.10" y1="47.00" x2="332.10" y2="65.00" stroke="#6a6a6a" stroke-width="1.3" stroke-linecap="butt"/>
<circle cx="332.10" cy="56.30" r="1.8" fill="#fff" stroke="#1e1e1e" stroke-width="0.9"/>
<line x1="339.30" y1="44.00" x2="339.30" y2="61.00" stroke="#6a6a6a" stroke-width="1.3" stroke-linecap="butt"/>
<circle cx="339.30" cy="52.60" r="2.0" fill="#1e1e1e"/>
<text x="336.23" y="41.25" font-size="10" text-anchor="middle" font-weight="bold" font-style="normal" fill="#4a4a4a" letter-spacing="1.26">***</text>
<text x="405.63" y="76.65" font-size="10" text-anchor="middle" font-weight="bold" font-style="normal" fill="#4a4a4a" letter-spacing="1.26">**</text>
<text x="418.23" y="84.75" font-size="10" text-anchor="middle" font-weight="bold" font-style="normal" fill="#4a4a4a" letter-spacing="1.26">*</text>
<text x="426.63" y="63.55" font-size="10" text-anchor="middle" font-weight="bold" font-style="normal" fill="#4a4a4a" letter-spacing="1.26">*</text>
<text x="435.53" y="57.35" font-size="10" text-anchor="middle" font-weight="bold" font-style="normal" fill="#4a4a4a" letter-spacing="1.26">**</text>
<text x="453.53" y="58.05" font-size="10" text-anchor="middle" font-weight="bold" font-style="normal" fill="#4a4a4a" letter-spacing="1.26">***</text>
<text x="485.03" y="57.15" font-size="10" text-anchor="middle" font-weight="bold" font-style="normal" fill="#4a4a4a" letter-spacing="1.26">**</text>
<text x="514.93" y="63.15" font-size="10" text-anchor="middle" font-weight="bold" font-style="normal" fill="#4a4a4a" letter-spacing="1.26">***</text>
<text x="508.73" y="84.75" font-size="10" text-anchor="middle" font-weight="bold" font-style="normal" fill="#4a4a4a" letter-spacing="1.26">**</text>
<text x="426.40" y="139.61" font-size="6.3" text-anchor="middle" font-weight="bold" font-style="italic" fill="#222">#</text>
<text x="437.40" y="137.41" font-size="6.3" text-anchor="middle" font-weight="bold" font-style="italic" fill="#222">###</text>
<text x="453.40" y="125.80" font-size="6.3" text-anchor="middle" font-weight="bold" font-style="italic" fill="#222">###</text>
<text x="482.50" y="131.91" font-size="6.3" text-anchor="middle" font-weight="bold" font-style="italic" fill="#222">###</text>
<text x="547.50" y="10.70" font-size="12.8" text-anchor="start" font-weight="bold" font-style="normal" fill="#111">c</text>
<line x1="598.20" y1="18.70" x2="598.20" y2="201.80" stroke="#1e1e1e" stroke-width="1.0" stroke-linecap="butt"/>
<line x1="594.20" y1="201.30" x2="598.20" y2="201.30" stroke="#1e1e1e" stroke-width="0.9" stroke-linecap="butt"/>
<line x1="594.20" y1="170.95" x2="598.20" y2="170.95" stroke="#1e1e1e" stroke-width="0.9" stroke-linecap="butt"/>
<line x1="594.20" y1="140.60" x2="598.20" y2="140.60" stroke="#1e1e1e" stroke-width="0.9" stroke-linecap="butt"/>
<line x1="594.20" y1="110.25" x2="598.20" y2="110.25" stroke="#1e1e1e" stroke-width="0.9" stroke-linecap="butt"/>
<line x1="594.20" y1="79.90" x2="598.20" y2="79.90" stroke="#1e1e1e" stroke-width="0.9" stroke-linecap="butt"/>
<line x1="594.20" y1="49.55" x2="598.20" y2="49.55" stroke="#1e1e1e" stroke-width="0.9" stroke-linecap="butt"/>
<line x1="594.20" y1="19.20" x2="598.20" y2="19.20" stroke="#1e1e1e" stroke-width="0.9" stroke-linecap="butt"/>
<text x="589.50" y="204.50" font-size="8.9" text-anchor="end" font-weight="normal" font-style="normal" fill="#1e1e1e" stroke="#1e1e1e" stroke-width="0.2">0</text>
<text x="589.50" y="143.80" font-size="8.9" text-anchor="end" font-weight="normal" font-style="normal" fill="#1e1e1e" stroke="#1e1e1e" stroke-width="0.2">0.5</text>
<text x="589.50" y="83.10" font-size="8.9" text-anchor="end" font-weight="normal" font-style="normal" fill="#1e1e1e" stroke="#1e1e1e" stroke-width="0.2">1.0</text>
<text x="589.50" y="22.40" font-size="8.9" text-anchor="end" font-weight="normal" font-style="normal" fill="#1e1e1e" stroke="#1e1e1e" stroke-width="0.2">1.5</text>
<rect x="613.40" y="84.15" width="17.90" height="117.15" fill="#fff" stroke="#333" stroke-width="1.0"/>
<line x1="622.40" y1="84.15" x2="622.40" y2="75.04" stroke="#333" stroke-width="1.0" stroke-linecap="butt"/>
<line x1="620.40" y1="75.04" x2="624.40" y2="75.04" stroke="#333" stroke-width="1.0" stroke-linecap="butt"/>
<rect x="654.70" y="140.60" width="18.00" height="60.70" fill="#fff" stroke="#333" stroke-width="1.0"/>
<line x1="663.70" y1="140.60" x2="663.70" y2="130.89" stroke="#333" stroke-width="1.0" stroke-linecap="butt"/>
<line x1="661.70" y1="130.89" x2="665.70" y2="130.89" stroke="#333" stroke-width="1.0" stroke-linecap="butt"/>
<text x="664.53" y="129.75" font-size="10" text-anchor="middle" font-weight="bold" font-style="normal" fill="#4a4a4a" letter-spacing="1.26">*</text>
<line x1="612.60" y1="35.00" x2="672.80" y2="35.00" stroke="#555" stroke-width="1.3" stroke-linecap="butt"/>
<text x="645.50" y="31.70" font-size="9.7" text-anchor="middle" font-weight="normal" font-style="normal" fill="#1e1e1e" stroke="#1e1e1e" stroke-width="0.2">TL + MSC</text>
<text x="622.85" y="217.90" font-size="9.75" text-anchor="middle" font-weight="normal" font-style="normal" fill="#1e1e1e" stroke="#1e1e1e" stroke-width="0.2">Vehicle</text>
<text x="665.10" y="217.90" font-size="9.9" text-anchor="middle" font-weight="normal" font-style="normal" fill="#1e1e1e" stroke="#1e1e1e" stroke-width="0.2">Lipo-Clo</text>
<text transform="translate(558.3,109.5) rotate(-90)" font-size="10" text-anchor="middle" fill="#1e1e1e" stroke="#1e1e1e" stroke-width="0.2">Relative MOR mRNA levels</text>
<text transform="translate(572.2,109.5) rotate(-90)" font-size="10" text-anchor="middle" fill="#1e1e1e" stroke="#1e1e1e" stroke-width="0.2">( RQ )</text>
<text x="0.60" y="262.30" font-size="12.8" text-anchor="start" font-weight="bold" font-style="normal" fill="#111">d</text>
<text x="22.50" y="262.40" font-size="8.5" text-anchor="start" font-weight="normal" font-style="normal" fill="#1e1e1e" stroke="#1e1e1e" stroke-width="0.2">PRI-BMSC</text>
<text x="22.50" y="272.60" font-size="8.5" text-anchor="start" font-weight="normal" font-style="normal" fill="#1e1e1e" stroke="#1e1e1e" stroke-width="0.2">Medium</text>
<text x="6.30" y="295.80" font-size="9.6" text-anchor="start" font-weight="normal" font-style="normal" fill="#1e1e1e" stroke="#1e1e1e" stroke-width="0.2">TL</text>
<line x1="20.80" y1="292.40" x2="65.60" y2="292.40" stroke="#1e1e1e" stroke-width="1.0" stroke-linecap="butt"/>
<path d="M70.6,292.4 L64.2,289.6 L65.7,292.4 L64.2,295.2 Z" fill="#1e1e1e"/>
<path d="M55.0,265.4 L56.2,268.2 L75.8,282.0 L76.8,280.4 Z" fill="#c4c4c4" stroke="#a0a0a0" stroke-width="0.6"/>
<line x1="75.80" y1="281.00" x2="80.20" y2="284.00" stroke="#8a8a8a" stroke-width="0.7" stroke-linecap="butt"/>
<path d="M92.2,279.2 C93.5,274.5 98.5,269.5 105.5,267.6 C111,266.3 116.5,268.2 120.2,272.6 C122,274.6 124.5,276.2 127.6,276.6 L130.8,274.8 L130.6,279.0 C129.6,280.3 129.0,281.2 129.4,283.6 C129.6,286.8 128.6,290.4 126.6,292.9 C125.4,294.6 123.6,295.4 121.8,295.0 C120.6,294.7 119.6,294.0 118.6,293.4 M119.2,293.6 C116.5,292.0 114.0,291.8 112.0,292.4 C108.5,293.3 105.5,292.8 103.0,292.0 M113.2,292.0 C114.6,293.8 116.6,295.4 118.8,295.6 C119.8,295.4 119.6,294.4 118.8,293.8 M101.8,285.6 C102.8,288.4 104.0,290.6 106.0,291.8 M93.6,292.4 C94.6,294.6 96.0,296.8 98.2,297.8 C99.6,298.4 101.4,298.2 101.6,297.2 C101.6,296.2 99.6,295.0 97.6,294.0 M97.6,294.0 C99.6,293.4 101.4,293.2 103.0,292.0 M92.2,280.2 C89.6,280.0 86.0,280.8 83.6,283.0 C81.4,285.0 81.0,288.4 82.2,290.6 C83.4,292.6 86.4,293.4 89.4,293.0 C91.0,292.8 92.6,292.4 93.6,292.4 M91.6,281.0 C90.6,283.0 90.8,286.0 91.4,287.6 C91.6,289.0 91.0,290.4 89.8,291.4 M114.6,275.8 C116.4,275.0 118.4,275.2 120.2,275.8 M128.6,280.8 C129.2,281.6 129.6,282.6 129.4,283.6" fill="none" stroke="#1e1e1e" stroke-width="1.0" stroke-linecap="round" stroke-linejoin="round"/>
<path d="M92.2,280.2 C89.6,280.0 86.0,280.8 83.6,283.0 C81.4,285.0 81.0,288.4 82.2,290.6" fill="none" stroke="#1e1e1e" stroke-width="1.5"/>
<ellipse cx="116.0" cy="281.8" rx="1.8" ry="1.9" fill="#fff" stroke="#1e1e1e" stroke-width="1.0"/>
<ellipse cx="122.4" cy="289.3" rx="1.3" ry="1.0" fill="#1e1e1e"/>
<path d="M101.6,285.2 C103.2,287.0 104.6,289.0 107.6,291.4 L105.6,292.2 C103.8,290.6 102.6,288.4 101.6,285.2 Z" fill="#1e1e1e"/>
<line x1="100.10" y1="302.60" x2="100.10" y2="315.10" stroke="#1e1e1e" stroke-width="1.0" stroke-linecap="butt"/>
<path d="M100.1,319.6 L97.39999999999999,313.3 L100.1,314.70000000000005 L102.8,313.3 Z" fill="#1e1e1e"/>
<text x="99.60" y="330.40" font-size="8.5" text-anchor="middle" font-weight="normal" font-style="normal" fill="#1e1e1e" stroke="#1e1e1e" stroke-width="0.2">Blood</text>
<text x="26.80" y="337.20" font-size="8.5" text-anchor="start" font-weight="normal" font-style="normal" fill="#1e1e1e" stroke="#1e1e1e" stroke-width="0.2">Ficoll Solution</text>
<line x1="81.90" y1="334.30" x2="93.10" y2="337.59" stroke="#1e1e1e" stroke-width="0.9" stroke-linecap="butt"/>
<path d="M97.90,339.00 L91.41,339.80 L93.87,337.82 L92.88,334.81 Z" fill="#1e1e1e"/>
<line x1="99.80" y1="333.20" x2="99.80" y2="344.30" stroke="#1e1e1e" stroke-width="1.0" stroke-linecap="butt"/>
<path d="M99.8,348.8 L97.1,342.5 L99.8,343.90000000000003 L102.5,342.5 Z" fill="#1e1e1e"/>
<line x1="99.80" y1="352.20" x2="99.80" y2="362.50" stroke="#1e1e1e" stroke-width="1.0" stroke-linecap="butt"/>
<path d="M99.8,367.0 L97.1,360.7 L99.8,362.1 L102.5,360.7 Z" fill="#1e1e1e"/>
<text x="98.80" y="377.60" font-size="8.6" text-anchor="middle" font-weight="normal" font-style="normal" fill="#1e1e1e" stroke="#1e1e1e" stroke-width="0.2">MC</text>
<line x1="88.30" y1="377.60" x2="76.60" y2="386.14" stroke="#1e1e1e" stroke-width="0.9" stroke-linecap="butt"/>
<path d="M72.40,389.20 L75.82,383.36 L75.91,386.64 L79.00,387.73 Z" fill="#1e1e1e"/>
<line x1="106.40" y1="377.60" x2="116.57" y2="385.91" stroke="#1e1e1e" stroke-width="0.9" stroke-linecap="butt"/>
<path d="M120.60,389.20 L114.09,387.37 L117.24,386.45 L117.51,383.19 Z" fill="#1e1e1e"/>
<text x="16.90" y="402.00" font-size="8.5" text-anchor="start" font-weight="normal" font-style="normal" fill="#1e1e1e" stroke="#1e1e1e" stroke-width="0.2" textLength="58.1" lengthAdjust="spacingAndGlyphs">RVM injection (<tspan font-weight="bold">e</tspan>)</text>
<text x="105.50" y="402.00" font-size="8.5" text-anchor="start" font-weight="normal" font-style="normal" fill="#1e1e1e" stroke="#1e1e1e" stroke-width="0.2">RT-qPCR (<tspan font-weight="bold">f</tspan>)</text>
<defs>
<radialGradient id="gL" cx="0.3" cy="0.55" r="0.6"><stop offset="0" stop-color="#17481a"/><stop offset="1" stop-color="#0f3312"/></radialGradient>
<radialGradient id="gR" cx="0.6" cy="0.45" r="0.6"><stop offset="0" stop-color="#1b531d"/><stop offset="1" stop-color="#113a14"/></radialGradient>
<linearGradient id="gT" x1="0" y1="0" x2="0" y2="1"><stop offset="0" stop-color="#5aff5a" stop-opacity="0.25"/><stop offset="0.3" stop-color="#52e052" stop-opacity="0.9"/><stop offset="1" stop-color="#3cc03c" stop-opacity="0.6"/></linearGradient>
<filter id="speck" x="0" y="0" width="1" height="1"><feTurbulence type="fractalNoise" baseFrequency="0.9" numOctaves="1" seed="7" result="n"/><feColorMatrix in="n" type="matrix" values="0 0 0 0 0.2  0 0 0 0 0.6  0 0 0 0 0.2  0 0 0 10 -6.3"/><feGaussianBlur stdDeviation="0.35"/></filter>
<filter id="bl0" x="-1" y="-0.2" width="3" height="1.4"><feGaussianBlur stdDeviation="0.5"/></filter>
<filter id="bl1" x="-0.5" y="-0.5" width="2" height="2"><feGaussianBlur stdDeviation="1.2"/></filter>
<filter id="bl2" x="-0.2" y="-0.2" width="1.4" height="1.4"><feGaussianBlur stdDeviation="2.5"/></filter>
<clipPath id="cpImg"><rect x="5.3" y="406.0" width="154.3" height="89.0"/></clipPath>
</defs>
<rect x="5.3" y="406.0" width="154.3" height="89.0" fill="#040904"/>
<g clip-path="url(#cpImg)">
<path d="M7.5,440 C7,430 8.5,421 12,416 C16,410 24,407.3 30,407.4 C37,407.6 42,410 44,414.5 C52,416 64,417 70,420 C74,422 77,427 80,432 L84.4,441 C86,435 88,429 91.6,426 C94,421 98,419.5 104,419.3 C110,419 116,418.5 121,416 C124,412 128,409 134,408.3 C142,407.8 150,409.5 154,413 C157,416 158.3,421 158.6,428 C159,440 158.6,452 156.5,463 C154.5,473 150,480 143,484 C132,487 118,488 104,489.5 C95,490.5 88,492.5 84.4,495.5 C78,492.5 70,489 60,485.5 C46,481 32,475 22,468 C12,461 8,451 7.5,440 Z" fill="#0b2f0c" filter="url(#bl1)"/>
<clipPath id="cpT"><path d="M7.5,440 C7,430 8.5,421 12,416 C16,410 24,407.3 30,407.4 C37,407.6 42,410 44,414.5 C52,416 64,417 70,420 C74,422 77,427 80,432 L84.4,441 C86,435 88,429 91.6,426 C94,421 98,419.5 104,419.3 C110,419 116,418.5 121,416 C124,412 128,409 134,408.3 C142,407.8 150,409.5 154,413 C157,416 158.3,421 158.6,428 C159,440 158.6,452 156.5,463 C154.5,473 150,480 143,484 C132,487 118,488 104,489.5 C95,490.5 88,492.5 84.4,495.5 C78,492.5 70,489 60,485.5 C46,481 32,475 22,468 C12,461 8,451 7.5,440 Z"/></clipPath>
<g clip-path="url(#cpT)">
<path d="M4,438 C30,434 60,434 84,441 C110,434 140,433 162,440 L162,500 L4,500 Z" fill="#0f3f10" opacity="0.7" filter="url(#bl2)"/>
<ellipse cx="27" cy="415" rx="17" ry="8.5" fill="#124a13" opacity="0.75" filter="url(#bl2)"/>
<path d="M15,424 C20,418 30,416 40,418" fill="none" stroke="#082a09" stroke-width="2.2" opacity="0.8" filter="url(#bl1)"/>
<ellipse cx="57" cy="425" rx="19" ry="7" fill="#104210" opacity="0.6" filter="url(#bl2)"/>
<path d="M124,416 C127,411 131,409 138,408.8 C146,409 152,411 155,415 C157.5,419 158,424 158,430" fill="none" stroke="#175717" stroke-width="3.0" opacity="0.85" filter="url(#bl1)"/>
<path d="M118,424 C124,418 132,415 140,415.5 C147,416.5 152,420 154,428" fill="none" stroke="#072808" stroke-width="3" opacity="0.7" filter="url(#bl1)"/>
<ellipse cx="104" cy="426" rx="12" ry="5" fill="#114411" opacity="0.55" filter="url(#bl2)"/>
<ellipse cx="40" cy="462" rx="14" ry="10" fill="#165016" opacity="0.3" filter="url(#bl2)"/>
<ellipse cx="128" cy="458" rx="18" ry="14" fill="#165016" opacity="0.3" filter="url(#bl2)"/>
<rect x="5" y="406" width="155" height="90" fill="#3a9a3a" filter="url(#speck)" opacity="0.22"/>
</g>
<rect x="82.9" y="446" width="2.8" height="30" fill="url(#gT)" opacity="0.8" filter="url(#bl1)"/>
<path d="M84.0,448 L84.9,448 L84.7,474 L83.8,474 Z" fill="#55dd55" opacity="0.8" filter="url(#bl0)"/>
</g>
<line x1="84.40" y1="430.80" x2="84.40" y2="442.00" stroke="#f2f2f2" stroke-width="1.0" stroke-linecap="butt"/>
<path d="M84.4,446.6 L81.9,440.2 L84.4,441.6 L86.9,440.2 Z" fill="#f2f2f2"/>
<text x="65.80" y="459.00" font-size="9.0" text-anchor="middle" font-weight="normal" font-style="normal" fill="#f2f2f2" stroke="#f2f2f2" stroke-width="0.2">RVM</text>
<line x1="72.00" y1="462.00" x2="82.20" y2="468.60" stroke="#f2f2f2" stroke-width="1.0" stroke-linecap="butt"/>
<path d="M59.6,482.2 C67,476 76,469.5 84.4,467.6 C91,469.5 98,476 103.2,484.6" fill="none" stroke="#f2f2f2" stroke-width="1.15" stroke-dasharray="3,2"/>
<circle cx="82.7" cy="477.4" r="5.3" fill="none" stroke="#f2f2f2" stroke-width="1.1"/>
<text x="71.80" y="492.00" font-size="9.0" text-anchor="middle" font-weight="normal" font-style="normal" fill="#f2f2f2" stroke="#f2f2f2" stroke-width="0.2">Py</text>
<text x="143.40" y="485.20" font-size="9.0" text-anchor="middle" font-weight="normal" font-style="normal" fill="#f2f2f2" stroke="#f2f2f2" stroke-width="0.2">1 mm</text>
<rect x="134.0" y="488.6" width="17.9" height="2.6" fill="#f2f2f2"/>
<text x="171.40" y="260.80" font-size="12.8" text-anchor="start" font-weight="bold" font-style="normal" fill="#111">e</text>
<line x1="208.40" y1="282.50" x2="208.40" y2="476.40" stroke="#1e1e1e" stroke-width="1.0" stroke-linecap="butt"/>
<line x1="205.80" y1="459.07" x2="208.40" y2="459.07" stroke="#1e1e1e" stroke-width="0.8" stroke-linecap="butt"/>
<line x1="205.80" y1="450.69" x2="208.40" y2="450.69" stroke="#1e1e1e" stroke-width="0.8" stroke-linecap="butt"/>
<line x1="205.80" y1="444.74" x2="208.40" y2="444.74" stroke="#1e1e1e" stroke-width="0.8" stroke-linecap="butt"/>
<line x1="205.80" y1="440.13" x2="208.40" y2="440.13" stroke="#1e1e1e" stroke-width="0.8" stroke-linecap="butt"/>
<line x1="205.80" y1="436.36" x2="208.40" y2="436.36" stroke="#1e1e1e" stroke-width="0.8" stroke-linecap="butt"/>
<line x1="205.80" y1="433.17" x2="208.40" y2="433.17" stroke="#1e1e1e" stroke-width="0.8" stroke-linecap="butt"/>
<line x1="205.80" y1="430.41" x2="208.40" y2="430.41" stroke="#1e1e1e" stroke-width="0.8" stroke-linecap="butt"/>
<line x1="205.80" y1="427.98" x2="208.40" y2="427.98" stroke="#1e1e1e" stroke-width="0.8" stroke-linecap="butt"/>
<line x1="205.80" y1="411.47" x2="208.40" y2="411.47" stroke="#1e1e1e" stroke-width="0.8" stroke-linecap="butt"/>
<line x1="205.80" y1="403.09" x2="208.40" y2="403.09" stroke="#1e1e1e" stroke-width="0.8" stroke-linecap="butt"/>
<line x1="205.80" y1="397.14" x2="208.40" y2="397.14" stroke="#1e1e1e" stroke-width="0.8" stroke-linecap="butt"/>
<line x1="205.80" y1="392.53" x2="208.40" y2="392.53" stroke="#1e1e1e" stroke-width="0.8" stroke-linecap="butt"/>
<line x1="205.80" y1="388.76" x2="208.40" y2="388.76" stroke="#1e1e1e" stroke-width="0.8" stroke-linecap="butt"/>
<line x1="205.80" y1="385.57" x2="208.40" y2="385.57" stroke="#1e1e1e" stroke-width="0.8" stroke-linecap="butt"/>
<line x1="205.80" y1="382.81" x2="208.40" y2="382.81" stroke="#1e1e1e" stroke-width="0.8" stroke-linecap="butt"/>
<line x1="205.80" y1="380.38" x2="208.40" y2="380.38" stroke="#1e1e1e" stroke-width="0.8" stroke-linecap="butt"/>
<line x1="205.80" y1="363.87" x2="208.40" y2="363.87" stroke="#1e1e1e" stroke-width="0.8" stroke-linecap="butt"/>
<line x1="205.80" y1="355.49" x2="208.40" y2="355.49" stroke="#1e1e1e" stroke-width="0.8" stroke-linecap="butt"/>
<line x1="205.80" y1="349.54" x2="208.40" y2="349.54" stroke="#1e1e1e" stroke-width="0.8" stroke-linecap="butt"/>
<line x1="205.80" y1="344.93" x2="208.40" y2="344.93" stroke="#1e1e1e" stroke-width="0.8" stroke-linecap="butt"/>
<line x1="205.80" y1="341.16" x2="208.40" y2="341.16" stroke="#1e1e1e" stroke-width="0.8" stroke-linecap="butt"/>
<line x1="205.80" y1="337.97" x2="208.40" y2="337.97" stroke="#1e1e1e" stroke-width="0.8" stroke-linecap="butt"/>
<line x1="205.80" y1="335.21" x2="208.40" y2="335.21" stroke="#1e1e1e" stroke-width="0.8" stroke-linecap="butt"/>
<line x1="205.80" y1="332.78" x2="208.40" y2="332.78" stroke="#1e1e1e" stroke-width="0.8" stroke-linecap="butt"/>
<line x1="205.80" y1="316.27" x2="208.40" y2="316.27" stroke="#1e1e1e" stroke-width="0.8" stroke-linecap="butt"/>
<line x1="205.80" y1="307.89" x2="208.40" y2="307.89" stroke="#1e1e1e" stroke-width="0.8" stroke-linecap="butt"/>
<line x1="205.80" y1="301.94" x2="208.40" y2="301.94" stroke="#1e1e1e" stroke-width="0.8" stroke-linecap="butt"/>
<line x1="205.80" y1="297.33" x2="208.40" y2="297.33" stroke="#1e1e1e" stroke-width="0.8" stroke-linecap="butt"/>
<line x1="205.80" y1="293.56" x2="208.40" y2="293.56" stroke="#1e1e1e" stroke-width="0.8" stroke-linecap="butt"/>
<line x1="205.80" y1="290.37" x2="208.40" y2="290.37" stroke="#1e1e1e" stroke-width="0.8" stroke-linecap="butt"/>
<line x1="205.80" y1="287.61" x2="208.40" y2="287.61" stroke="#1e1e1e" stroke-width="0.8" stroke-linecap="butt"/>
<line x1="205.80" y1="285.18" x2="208.40" y2="285.18" stroke="#1e1e1e" stroke-width="0.8" stroke-linecap="butt"/>
<line x1="204.60" y1="283.00" x2="208.40" y2="283.00" stroke="#1e1e1e" stroke-width="0.9" stroke-linecap="butt"/>
<text x="201.20" y="285.90" font-size="8.2" text-anchor="end" font-weight="normal" font-style="normal" fill="#1e1e1e" stroke="#1e1e1e" stroke-width="0.2">1000</text>
<line x1="204.60" y1="330.60" x2="208.40" y2="330.60" stroke="#1e1e1e" stroke-width="0.9" stroke-linecap="butt"/>
<text x="201.20" y="333.50" font-size="8.2" text-anchor="end" font-weight="normal" font-style="normal" fill="#1e1e1e" stroke="#1e1e1e" stroke-width="0.2">100</text>
<line x1="204.60" y1="378.20" x2="208.40" y2="378.20" stroke="#1e1e1e" stroke-width="0.9" stroke-linecap="butt"/>
<text x="201.20" y="381.10" font-size="8.2" text-anchor="end" font-weight="normal" font-style="normal" fill="#1e1e1e" stroke="#1e1e1e" stroke-width="0.2">10</text>
<line x1="204.60" y1="425.80" x2="208.40" y2="425.80" stroke="#1e1e1e" stroke-width="0.9" stroke-linecap="butt"/>
<text x="202.50" y="428.70" font-size="8.2" text-anchor="end" font-weight="normal" font-style="normal" fill="#1e1e1e" stroke="#1e1e1e" stroke-width="0.2">1</text>
<line x1="204.60" y1="473.40" x2="208.40" y2="473.40" stroke="#1e1e1e" stroke-width="0.9" stroke-linecap="butt"/>
<text x="202.50" y="476.30" font-size="8.2" text-anchor="end" font-weight="normal" font-style="normal" fill="#1e1e1e" stroke="#1e1e1e" stroke-width="0.2">0.1</text>
<line x1="208.40" y1="473.40" x2="245.00" y2="473.40" stroke="#1e1e1e" stroke-width="1.0" stroke-dasharray="3,2" stroke-dashoffset="-1.2" stroke-linecap="butt"/>
<line x1="245.00" y1="473.40" x2="403.58" y2="473.40" stroke="#1e1e1e" stroke-width="1.0" stroke-linecap="butt"/>
<line x1="216.40" y1="473.40" x2="216.40" y2="476.20" stroke="#1e1e1e" stroke-width="0.8" stroke-linecap="butt"/>
<line x1="245.00" y1="473.40" x2="245.00" y2="476.20" stroke="#1e1e1e" stroke-width="0.8" stroke-linecap="butt"/>
<line x1="297.86" y1="473.40" x2="297.86" y2="476.20" stroke="#1e1e1e" stroke-width="0.8" stroke-linecap="butt"/>
<line x1="350.72" y1="473.40" x2="350.72" y2="476.20" stroke="#1e1e1e" stroke-width="0.8" stroke-linecap="butt"/>
<line x1="403.58" y1="473.40" x2="403.58" y2="476.20" stroke="#1e1e1e" stroke-width="0.8" stroke-linecap="butt"/>
<text x="223.10" y="484.40" font-size="7.9" text-anchor="middle" font-weight="normal" font-style="normal" fill="#1e1e1e" stroke="#1e1e1e" stroke-width="0.2">1-7d TL</text>
<text x="245.00" y="484.60" font-size="8.2" text-anchor="middle" font-weight="normal" font-style="normal" fill="#1e1e1e" stroke="#1e1e1e" stroke-width="0.2">1</text>
<text x="297.86" y="484.60" font-size="8.2" text-anchor="middle" font-weight="normal" font-style="normal" fill="#1e1e1e" stroke="#1e1e1e" stroke-width="0.2">3</text>
<text x="350.72" y="484.60" font-size="8.2" text-anchor="middle" font-weight="normal" font-style="normal" fill="#1e1e1e" stroke="#1e1e1e" stroke-width="0.2">5</text>
<text x="403.58" y="484.60" font-size="8.2" text-anchor="middle" font-weight="normal" font-style="normal" fill="#1e1e1e" stroke="#1e1e1e" stroke-width="0.2">7</text>
<text x="318.60" y="498.00" font-size="9.4" text-anchor="middle" font-weight="normal" font-style="normal" fill="#1e1e1e" stroke="#1e1e1e" stroke-width="0.2">Time post - Injection ( d )</text>
<text transform="translate(181.3,371.6) rotate(-90)" font-size="9" text-anchor="middle" fill="#1e1e1e" stroke="#1e1e1e" stroke-width="0.2">EF<tspan font-size="8.2" dy="4.1">50</tspan><tspan dy="-4.1"> ( g )</tspan></text>
<line x1="220.60" y1="465.60" x2="220.60" y2="459.80" stroke="#1e1e1e" stroke-width="1.0" stroke-linecap="butt"/>
<path d="M220.60,456.80 L218.90,460.60 L220.60,459.84 L222.30,460.60 Z" fill="#1e1e1e"/>
<rect x="305.30" y="282.90" width="92.40" height="36.40" fill="#fff" stroke="#333" stroke-width="1.0"/>
<text x="309.60" y="293.30" font-size="8.2" text-anchor="start" font-weight="normal" font-style="normal" fill="#1e1e1e" stroke="#1e1e1e" stroke-width="0.2">Ipsi</text>
<text x="331.50" y="293.30" font-size="8.2" text-anchor="start" font-weight="normal" font-style="normal" fill="#1e1e1e" stroke="#1e1e1e" stroke-width="0.2">Con</text>
<line x1="312.30" y1="302.20" x2="322.30" y2="302.20" stroke="#1e1e1e" stroke-width="0.9" stroke-linecap="butt"/>
<circle cx="317.20" cy="302.20" r="2.8" fill="#1e1e1e"/>
<line x1="334.20" y1="302.20" x2="343.80" y2="302.20" stroke="#1e1e1e" stroke-width="0.9" stroke-linecap="butt"/>
<circle cx="338.90" cy="302.20" r="2.5" fill="#fff" stroke="#1e1e1e" stroke-width="0.9"/>
<line x1="312.30" y1="312.30" x2="322.30" y2="312.30" stroke="#1e1e1e" stroke-width="0.9" stroke-linecap="butt"/>
<rect x="314.70" y="309.80" width="5.0" height="5.0" fill="#1e1e1e"/>
<line x1="334.20" y1="312.30" x2="343.80" y2="312.30" stroke="#1e1e1e" stroke-width="0.9" stroke-linecap="butt"/>
<rect x="336.60" y="310.00" width="4.6" height="4.6" fill="#fff" stroke="#1e1e1e" stroke-width="0.9"/>
<text x="351.70" y="305.20" font-size="8.2" text-anchor="start" font-weight="normal" font-style="normal" fill="#1e1e1e" stroke="#1e1e1e" stroke-width="0.2">BMSC-MC</text>
<text x="351.70" y="315.30" font-size="8.2" text-anchor="start" font-weight="normal" font-style="normal" fill="#1e1e1e" stroke="#1e1e1e" stroke-width="0.2">Med-MC</text>
<line x1="216.80" y1="322.00" x2="216.80" y2="342.00" stroke="#333" stroke-width="1.0" stroke-linecap="butt"/>
<line x1="245.10" y1="326.60" x2="245.10" y2="344.60" stroke="#333" stroke-width="1.0" stroke-linecap="butt"/>
<line x1="297.90" y1="326.20" x2="297.90" y2="344.60" stroke="#333" stroke-width="1.0" stroke-linecap="butt"/>
<line x1="350.30" y1="325.30" x2="350.30" y2="344.10" stroke="#333" stroke-width="1.0" stroke-linecap="butt"/>
<line x1="402.70" y1="325.60" x2="402.70" y2="344.00" stroke="#333" stroke-width="1.0" stroke-linecap="butt"/>
<line x1="217.50" y1="338.00" x2="217.50" y2="354.50" stroke="#333" stroke-width="1.0" stroke-linecap="butt"/>
<line x1="245.10" y1="328.00" x2="245.10" y2="346.00" stroke="#333" stroke-width="1.0" stroke-linecap="butt"/>
<line x1="299.40" y1="328.00" x2="299.40" y2="347.00" stroke="#333" stroke-width="1.0" stroke-linecap="butt"/>
<line x1="351.60" y1="327.00" x2="351.60" y2="346.00" stroke="#333" stroke-width="1.0" stroke-linecap="butt"/>
<line x1="405.10" y1="327.00" x2="405.10" y2="346.00" stroke="#333" stroke-width="1.0" stroke-linecap="butt"/>
<line x1="216.30" y1="439.30" x2="216.30" y2="452.80" stroke="#333" stroke-width="1.0" stroke-linecap="butt"/>
<line x1="245.10" y1="357.30" x2="245.10" y2="372.80" stroke="#333" stroke-width="1.0" stroke-linecap="butt"/>
<line x1="298.10" y1="342.00" x2="298.10" y2="358.40" stroke="#333" stroke-width="1.0" stroke-linecap="butt"/>
<line x1="351.20" y1="345.90" x2="351.20" y2="362.10" stroke="#333" stroke-width="1.0" stroke-linecap="butt"/>
<line x1="403.60" y1="336.90" x2="403.60" y2="359.40" stroke="#333" stroke-width="1.0" stroke-linecap="butt"/>
<line x1="216.30" y1="416.10" x2="216.30" y2="432.20" stroke="#333" stroke-width="1.0" stroke-linecap="butt"/>
<line x1="245.00" y1="430.20" x2="245.00" y2="443.30" stroke="#333" stroke-width="1.0" stroke-linecap="butt"/>
<line x1="297.70" y1="428.50" x2="297.70" y2="441.50" stroke="#333" stroke-width="1.0" stroke-linecap="butt"/>
<line x1="350.70" y1="425.00" x2="350.70" y2="438.00" stroke="#333" stroke-width="1.0" stroke-linecap="butt"/>
<line x1="403.60" y1="420.00" x2="403.60" y2="433.00" stroke="#333" stroke-width="1.0" stroke-linecap="butt"/>
<polyline points="216.80,334.80 245.10,335.80" fill="none" stroke="#1e1e1e" stroke-width="0.9" stroke-dasharray="3,2" stroke-linejoin="round"/>
<polyline points="245.10,335.80 297.90,335.00 350.30,334.20 402.70,335.50" fill="none" stroke="#1e1e1e" stroke-width="0.9" stroke-linejoin="round"/>
<polyline points="217.50,345.90 245.10,336.60" fill="none" stroke="#1e1e1e" stroke-width="0.9" stroke-dasharray="3,2" stroke-linejoin="round"/>
<polyline points="245.10,336.60 299.40,337.10 351.60,336.60 405.10,336.60" fill="none" stroke="#1e1e1e" stroke-width="0.9" stroke-linejoin="round"/>
<polyline points="216.30,445.70 245.10,364.90" fill="none" stroke="#1e1e1e" stroke-width="0.9" stroke-dasharray="3,2" stroke-linejoin="round"/>
<polyline points="245.10,364.90 298.10,349.60 351.20,352.60 403.60,347.70" fill="none" stroke="#1e1e1e" stroke-width="0.9" stroke-linejoin="round"/>
<polyline points="216.30,424.60 245.00,436.70" fill="none" stroke="#1e1e1e" stroke-width="0.9" stroke-dasharray="3,2" stroke-linejoin="round"/>
<polyline points="245.00,436.70 297.70,435.00 350.70,431.30 403.60,426.60" fill="none" stroke="#1e1e1e" stroke-width="0.9" stroke-linejoin="round"/>
<rect x="213.80" y="422.10" width="5.0" height="5.0" fill="#1e1e1e"/>
<rect x="242.50" y="434.20" width="5.0" height="5.0" fill="#1e1e1e"/>
<rect x="295.20" y="432.50" width="5.0" height="5.0" fill="#1e1e1e"/>
<rect x="348.20" y="428.80" width="5.0" height="5.0" fill="#1e1e1e"/>
<rect x="401.10" y="424.10" width="5.0" height="5.0" fill="#1e1e1e"/>
<circle cx="216.30" cy="445.70" r="2.9" fill="#1e1e1e"/>
<circle cx="245.10" cy="364.90" r="2.9" fill="#1e1e1e"/>
<circle cx="298.10" cy="349.60" r="2.9" fill="#1e1e1e"/>
<circle cx="351.20" cy="352.60" r="2.9" fill="#1e1e1e"/>
<circle cx="403.60" cy="347.70" r="2.9" fill="#1e1e1e"/>
<circle cx="217.50" cy="345.90" r="2.5" fill="#fff" stroke="#1e1e1e" stroke-width="0.9"/>
<circle cx="245.10" cy="336.60" r="2.5" fill="#fff" stroke="#1e1e1e" stroke-width="0.9"/>
<circle cx="299.40" cy="337.10" r="2.5" fill="#fff" stroke="#1e1e1e" stroke-width="0.9"/>
<circle cx="351.60" cy="336.60" r="2.5" fill="#fff" stroke="#1e1e1e" stroke-width="0.9"/>
<circle cx="405.10" cy="336.60" r="2.5" fill="#fff" stroke="#1e1e1e" stroke-width="0.9"/>
<rect x="214.50" y="332.50" width="4.6" height="4.6" fill="#fff" stroke="#1e1e1e" stroke-width="0.9"/>
<rect x="242.80" y="333.50" width="4.6" height="4.6" fill="#fff" stroke="#1e1e1e" stroke-width="0.9"/>
<rect x="295.60" y="332.70" width="4.6" height="4.6" fill="#fff" stroke="#1e1e1e" stroke-width="0.9"/>
<rect x="348.00" y="331.90" width="4.6" height="4.6" fill="#fff" stroke="#1e1e1e" stroke-width="0.9"/>
<rect x="400.40" y="333.20" width="4.6" height="4.6" fill="#fff" stroke="#1e1e1e" stroke-width="0.9"/>
<text x="298.93" y="369.81" font-size="11.5" text-anchor="middle" font-weight="bold" font-style="normal" fill="#4a4a4a" letter-spacing="1.65">***</text>
<text x="352.02" y="374.01" font-size="11.5" text-anchor="middle" font-weight="bold" font-style="normal" fill="#4a4a4a" letter-spacing="1.65">***</text>
<text x="399.12" y="371.31" font-size="11.5" text-anchor="middle" font-weight="bold" font-style="normal" fill="#4a4a4a" letter-spacing="1.65">***</text>
<text x="416.90" y="260.20" font-size="12.8" text-anchor="start" font-weight="bold" font-style="normal" fill="#111">f</text>
<line x1="458.20" y1="273.62" x2="458.20" y2="459.20" stroke="#1e1e1e" stroke-width="1.0" stroke-linecap="butt"/>
<line x1="455.00" y1="455.40" x2="458.20" y2="455.40" stroke="#1e1e1e" stroke-width="0.9" stroke-linecap="butt"/>
<text x="451.60" y="458.50" font-size="8.8" text-anchor="end" font-weight="normal" font-style="normal" fill="#1e1e1e" stroke="#1e1e1e" stroke-width="0.2">0</text>
<line x1="455.00" y1="432.74" x2="458.20" y2="432.74" stroke="#1e1e1e" stroke-width="0.9" stroke-linecap="butt"/>
<text x="451.60" y="435.84" font-size="8.8" text-anchor="end" font-weight="normal" font-style="normal" fill="#1e1e1e" stroke="#1e1e1e" stroke-width="0.2">100</text>
<line x1="455.00" y1="410.08" x2="458.20" y2="410.08" stroke="#1e1e1e" stroke-width="0.9" stroke-linecap="butt"/>
<text x="451.60" y="413.18" font-size="8.8" text-anchor="end" font-weight="normal" font-style="normal" fill="#1e1e1e" stroke="#1e1e1e" stroke-width="0.2">200</text>
<line x1="455.00" y1="387.42" x2="458.20" y2="387.42" stroke="#1e1e1e" stroke-width="0.9" stroke-linecap="butt"/>
<text x="451.60" y="390.52" font-size="8.8" text-anchor="end" font-weight="normal" font-style="normal" fill="#1e1e1e" stroke="#1e1e1e" stroke-width="0.2">300</text>
<line x1="455.00" y1="364.76" x2="458.20" y2="364.76" stroke="#1e1e1e" stroke-width="0.9" stroke-linecap="butt"/>
<text x="451.60" y="367.86" font-size="8.8" text-anchor="end" font-weight="normal" font-style="normal" fill="#1e1e1e" stroke="#1e1e1e" stroke-width="0.2">400</text>
<line x1="455.00" y1="342.10" x2="458.20" y2="342.10" stroke="#1e1e1e" stroke-width="0.9" stroke-linecap="butt"/>
<text x="451.60" y="345.20" font-size="8.8" text-anchor="end" font-weight="normal" font-style="normal" fill="#1e1e1e" stroke="#1e1e1e" stroke-width="0.2">500</text>
<line x1="455.00" y1="319.44" x2="458.20" y2="319.44" stroke="#1e1e1e" stroke-width="0.9" stroke-linecap="butt"/>
<text x="451.60" y="322.54" font-size="8.8" text-anchor="end" font-weight="normal" font-style="normal" fill="#1e1e1e" stroke="#1e1e1e" stroke-width="0.2">600</text>
<line x1="455.00" y1="296.78" x2="458.20" y2="296.78" stroke="#1e1e1e" stroke-width="0.9" stroke-linecap="butt"/>
<text x="451.60" y="299.88" font-size="8.8" text-anchor="end" font-weight="normal" font-style="normal" fill="#1e1e1e" stroke="#1e1e1e" stroke-width="0.2">700</text>
<line x1="455.00" y1="274.12" x2="458.20" y2="274.12" stroke="#1e1e1e" stroke-width="0.9" stroke-linecap="butt"/>
<text x="451.60" y="277.22" font-size="8.8" text-anchor="end" font-weight="normal" font-style="normal" fill="#1e1e1e" stroke="#1e1e1e" stroke-width="0.2">800</text>
<text transform="translate(428.4,369) rotate(-90)" font-size="10" text-anchor="middle" fill="#1e1e1e" stroke="#1e1e1e" stroke-width="0.2">mRNA levels ( % naive )</text>
<line x1="458.20" y1="433.30" x2="685.00" y2="433.30" stroke="#1e1e1e" stroke-width="1.0" stroke-dasharray="3.4,2.4" stroke-linecap="butt"/>
<defs><pattern id="hatch" patternUnits="userSpaceOnUse" width="10" height="4.6" patternTransform="rotate(-36 0 0)"><rect width="10" height="4.6" fill="#fff"/><line x1="0" y1="2.3" x2="10" y2="2.3" stroke="#2a2a2a" stroke-width="0.85"/></pattern><pattern id="hatchL" patternUnits="userSpaceOnUse" width="10" height="5.0" patternTransform="rotate(-55 0 0)"><rect width="10" height="5.0" fill="#fff"/><line x1="0" y1="2.5" x2="10" y2="2.5" stroke="#2a2a2a" stroke-width="1.0"/></pattern></defs>
<line x1="463.40" y1="424.13" x2="463.40" y2="430.47" stroke="#3a3a3a" stroke-width="1.0" stroke-linecap="butt"/>
<line x1="461.80" y1="424.13" x2="465.00" y2="424.13" stroke="#3a3a3a" stroke-width="1.0" stroke-linecap="butt"/>
<line x1="469.20" y1="400.34" x2="469.20" y2="412.80" stroke="#3a3a3a" stroke-width="1.0" stroke-linecap="butt"/>
<line x1="467.60" y1="400.34" x2="470.80" y2="400.34" stroke="#3a3a3a" stroke-width="1.0" stroke-linecap="butt"/>
<line x1="475.00" y1="430.25" x2="475.00" y2="435.23" stroke="#3a3a3a" stroke-width="1.0" stroke-linecap="butt"/>
<line x1="473.40" y1="430.25" x2="476.60" y2="430.25" stroke="#3a3a3a" stroke-width="1.0" stroke-linecap="butt"/>
<rect x="460.50" y="430.47" width="5.8" height="24.93" fill="#fff" stroke="#222" stroke-width="0.9"/>
<rect x="466.30" y="412.80" width="5.8" height="42.60" fill="#000" stroke="#222" stroke-width="0.9"/>
<rect x="472.10" y="435.23" width="5.8" height="20.17" fill="url(#hatch)" stroke="#222" stroke-width="0.9"/>
<line x1="487.20" y1="343.23" x2="487.20" y2="376.32" stroke="#3a3a3a" stroke-width="1.0" stroke-linecap="butt"/>
<line x1="485.60" y1="343.23" x2="488.80" y2="343.23" stroke="#3a3a3a" stroke-width="1.0" stroke-linecap="butt"/>
<line x1="493.00" y1="277.97" x2="493.00" y2="314.91" stroke="#3a3a3a" stroke-width="1.0" stroke-linecap="butt"/>
<line x1="491.40" y1="277.97" x2="494.60" y2="277.97" stroke="#3a3a3a" stroke-width="1.0" stroke-linecap="butt"/>
<line x1="498.80" y1="421.41" x2="498.80" y2="429.34" stroke="#3a3a3a" stroke-width="1.0" stroke-linecap="butt"/>
<line x1="497.20" y1="421.41" x2="500.40" y2="421.41" stroke="#3a3a3a" stroke-width="1.0" stroke-linecap="butt"/>
<rect x="484.30" y="376.32" width="5.8" height="79.08" fill="#fff" stroke="#222" stroke-width="0.9"/>
<rect x="490.10" y="314.91" width="5.8" height="140.49" fill="#000" stroke="#222" stroke-width="0.9"/>
<rect x="495.90" y="429.34" width="5.8" height="26.06" fill="url(#hatch)" stroke="#222" stroke-width="0.9"/>
<line x1="511.20" y1="414.39" x2="511.20" y2="425.49" stroke="#3a3a3a" stroke-width="1.0" stroke-linecap="butt"/>
<line x1="509.60" y1="414.39" x2="512.80" y2="414.39" stroke="#3a3a3a" stroke-width="1.0" stroke-linecap="butt"/>
<line x1="517.00" y1="314.23" x2="517.00" y2="347.99" stroke="#3a3a3a" stroke-width="1.0" stroke-linecap="butt"/>
<line x1="515.40" y1="314.23" x2="518.60" y2="314.23" stroke="#3a3a3a" stroke-width="1.0" stroke-linecap="butt"/>
<line x1="522.80" y1="400.79" x2="522.80" y2="416.20" stroke="#3a3a3a" stroke-width="1.0" stroke-linecap="butt"/>
<line x1="521.20" y1="400.79" x2="524.40" y2="400.79" stroke="#3a3a3a" stroke-width="1.0" stroke-linecap="butt"/>
<rect x="508.30" y="425.49" width="5.8" height="29.91" fill="#fff" stroke="#222" stroke-width="0.9"/>
<rect x="514.10" y="347.99" width="5.8" height="107.41" fill="#000" stroke="#222" stroke-width="0.9"/>
<rect x="519.90" y="416.20" width="5.8" height="39.20" fill="url(#hatch)" stroke="#222" stroke-width="0.9"/>
<line x1="535.10" y1="436.37" x2="535.10" y2="437.73" stroke="#3a3a3a" stroke-width="1.0" stroke-linecap="butt"/>
<line x1="533.50" y1="436.37" x2="536.70" y2="436.37" stroke="#3a3a3a" stroke-width="1.0" stroke-linecap="butt"/>
<line x1="540.90" y1="430.70" x2="540.90" y2="434.78" stroke="#3a3a3a" stroke-width="1.0" stroke-linecap="butt"/>
<line x1="539.30" y1="430.70" x2="542.50" y2="430.70" stroke="#3a3a3a" stroke-width="1.0" stroke-linecap="butt"/>
<line x1="546.70" y1="429.79" x2="546.70" y2="433.42" stroke="#3a3a3a" stroke-width="1.0" stroke-linecap="butt"/>
<line x1="545.10" y1="429.79" x2="548.30" y2="429.79" stroke="#3a3a3a" stroke-width="1.0" stroke-linecap="butt"/>
<rect x="532.20" y="437.73" width="5.8" height="17.67" fill="#fff" stroke="#222" stroke-width="0.9"/>
<rect x="538.00" y="434.78" width="5.8" height="20.62" fill="#000" stroke="#222" stroke-width="0.9"/>
<rect x="543.80" y="433.42" width="5.8" height="21.98" fill="url(#hatch)" stroke="#222" stroke-width="0.9"/>
<line x1="571.50" y1="432.51" x2="571.50" y2="434.33" stroke="#3a3a3a" stroke-width="1.0" stroke-linecap="butt"/>
<line x1="569.90" y1="432.51" x2="573.10" y2="432.51" stroke="#3a3a3a" stroke-width="1.0" stroke-linecap="butt"/>
<line x1="577.30" y1="437.95" x2="577.30" y2="440.90" stroke="#3a3a3a" stroke-width="1.0" stroke-linecap="butt"/>
<line x1="575.70" y1="437.95" x2="578.90" y2="437.95" stroke="#3a3a3a" stroke-width="1.0" stroke-linecap="butt"/>
<line x1="583.10" y1="441.58" x2="583.10" y2="443.84" stroke="#3a3a3a" stroke-width="1.0" stroke-linecap="butt"/>
<line x1="581.50" y1="441.58" x2="584.70" y2="441.58" stroke="#3a3a3a" stroke-width="1.0" stroke-linecap="butt"/>
<rect x="568.60" y="434.33" width="5.8" height="21.07" fill="#fff" stroke="#222" stroke-width="0.9"/>
<rect x="574.40" y="440.90" width="5.8" height="14.50" fill="#000" stroke="#222" stroke-width="0.9"/>
<rect x="580.20" y="443.84" width="5.8" height="11.56" fill="url(#hatch)" stroke="#222" stroke-width="0.9"/>
<line x1="595.40" y1="434.55" x2="595.40" y2="435.69" stroke="#3a3a3a" stroke-width="1.0" stroke-linecap="butt"/>
<line x1="593.80" y1="434.55" x2="597.00" y2="434.55" stroke="#3a3a3a" stroke-width="1.0" stroke-linecap="butt"/>
<line x1="601.20" y1="434.10" x2="601.20" y2="435.23" stroke="#3a3a3a" stroke-width="1.0" stroke-linecap="butt"/>
<line x1="599.60" y1="434.10" x2="602.80" y2="434.10" stroke="#3a3a3a" stroke-width="1.0" stroke-linecap="butt"/>
<line x1="607.00" y1="433.19" x2="607.00" y2="434.33" stroke="#3a3a3a" stroke-width="1.0" stroke-linecap="butt"/>
<line x1="605.40" y1="433.19" x2="608.60" y2="433.19" stroke="#3a3a3a" stroke-width="1.0" stroke-linecap="butt"/>
<rect x="592.50" y="435.69" width="5.8" height="19.71" fill="#fff" stroke="#222" stroke-width="0.9"/>
<rect x="598.30" y="435.23" width="5.8" height="20.17" fill="#000" stroke="#222" stroke-width="0.9"/>
<rect x="604.10" y="434.33" width="5.8" height="21.07" fill="url(#hatch)" stroke="#222" stroke-width="0.9"/>
<line x1="619.30" y1="428.43" x2="619.30" y2="435.46" stroke="#3a3a3a" stroke-width="1.0" stroke-linecap="butt"/>
<line x1="617.70" y1="428.43" x2="620.90" y2="428.43" stroke="#3a3a3a" stroke-width="1.0" stroke-linecap="butt"/>
<line x1="625.10" y1="327.82" x2="625.10" y2="346.86" stroke="#3a3a3a" stroke-width="1.0" stroke-linecap="butt"/>
<line x1="623.50" y1="327.82" x2="626.70" y2="327.82" stroke="#3a3a3a" stroke-width="1.0" stroke-linecap="butt"/>
<line x1="630.90" y1="350.26" x2="630.90" y2="371.10" stroke="#3a3a3a" stroke-width="1.0" stroke-linecap="butt"/>
<line x1="629.30" y1="350.26" x2="632.50" y2="350.26" stroke="#3a3a3a" stroke-width="1.0" stroke-linecap="butt"/>
<rect x="616.40" y="435.46" width="5.8" height="19.94" fill="#fff" stroke="#222" stroke-width="0.9"/>
<rect x="622.20" y="346.86" width="5.8" height="108.54" fill="#000" stroke="#222" stroke-width="0.9"/>
<rect x="628.00" y="371.10" width="5.8" height="84.30" fill="url(#hatch)" stroke="#222" stroke-width="0.9"/>
<line x1="643.00" y1="429.11" x2="643.00" y2="431.15" stroke="#3a3a3a" stroke-width="1.0" stroke-linecap="butt"/>
<line x1="641.40" y1="429.11" x2="644.60" y2="429.11" stroke="#3a3a3a" stroke-width="1.0" stroke-linecap="butt"/>
<line x1="648.80" y1="429.57" x2="648.80" y2="431.83" stroke="#3a3a3a" stroke-width="1.0" stroke-linecap="butt"/>
<line x1="647.20" y1="429.57" x2="650.40" y2="429.57" stroke="#3a3a3a" stroke-width="1.0" stroke-linecap="butt"/>
<line x1="654.60" y1="429.11" x2="654.60" y2="433.19" stroke="#3a3a3a" stroke-width="1.0" stroke-linecap="butt"/>
<line x1="653.00" y1="429.11" x2="656.20" y2="429.11" stroke="#3a3a3a" stroke-width="1.0" stroke-linecap="butt"/>
<rect x="640.10" y="431.15" width="5.8" height="24.25" fill="#fff" stroke="#222" stroke-width="0.9"/>
<rect x="645.90" y="431.83" width="5.8" height="23.57" fill="#000" stroke="#222" stroke-width="0.9"/>
<rect x="651.70" y="433.19" width="5.8" height="22.21" fill="url(#hatch)" stroke="#222" stroke-width="0.9"/>
<line x1="666.50" y1="434.10" x2="666.50" y2="435.01" stroke="#3a3a3a" stroke-width="1.0" stroke-linecap="butt"/>
<line x1="664.90" y1="434.10" x2="668.10" y2="434.10" stroke="#3a3a3a" stroke-width="1.0" stroke-linecap="butt"/>
<line x1="672.30" y1="439.08" x2="672.30" y2="441.12" stroke="#3a3a3a" stroke-width="1.0" stroke-linecap="butt"/>
<line x1="670.70" y1="439.08" x2="673.90" y2="439.08" stroke="#3a3a3a" stroke-width="1.0" stroke-linecap="butt"/>
<line x1="678.10" y1="439.08" x2="678.10" y2="441.12" stroke="#3a3a3a" stroke-width="1.0" stroke-linecap="butt"/>
<line x1="676.50" y1="439.08" x2="679.70" y2="439.08" stroke="#3a3a3a" stroke-width="1.0" stroke-linecap="butt"/>
<rect x="663.60" y="435.01" width="5.8" height="20.39" fill="#fff" stroke="#222" stroke-width="0.9"/>
<rect x="669.40" y="441.12" width="5.8" height="14.28" fill="#000" stroke="#222" stroke-width="0.9"/>
<rect x="675.20" y="441.12" width="5.8" height="14.28" fill="url(#hatch)" stroke="#222" stroke-width="0.9"/>
<text x="467.20" y="468.00" font-size="8.9" text-anchor="middle" font-weight="normal" font-style="italic" fill="#1e1e1e" stroke="#1e1e1e" stroke-width="0.2" transform="rotate(-30 467.20 468.00)">Irf4</text>
<text x="484.60" y="471.00" font-size="8.9" text-anchor="middle" font-weight="normal" font-style="italic" fill="#1e1e1e" stroke="#1e1e1e" stroke-width="0.2" transform="rotate(-30 484.60 471.00)">CD206</text>
<text x="508.00" y="471.20" font-size="8.9" text-anchor="middle" font-weight="normal" font-style="italic" fill="#1e1e1e" stroke="#1e1e1e" stroke-width="0.2" transform="rotate(-30 508.00 471.20)">CD163</text>
<text x="536.00" y="469.60" font-size="8.9" text-anchor="middle" font-weight="normal" font-style="italic" fill="#1e1e1e" stroke="#1e1e1e" stroke-width="0.2" transform="rotate(-30 536.00 469.60)">Il-10</text>
<text x="576.60" y="466.60" font-size="8.9" text-anchor="middle" font-weight="normal" font-style="italic" fill="#1e1e1e" stroke="#1e1e1e" stroke-width="0.2" transform="rotate(-30 576.60 466.60)">Irf5</text>
<text x="595.60" y="471.00" font-size="8.9" text-anchor="middle" font-weight="normal" font-style="italic" fill="#1e1e1e" stroke="#1e1e1e" stroke-width="0.2" transform="rotate(-30 595.60 471.00)">CD86</text>
<text x="624.20" y="466.20" font-size="8.9" text-anchor="middle" font-weight="normal" font-style="italic" fill="#1e1e1e" stroke="#1e1e1e" stroke-width="0.2" transform="rotate(-30 624.20 466.20)">Il-6</text>
<text x="643.80" y="468.80" font-size="8.9" text-anchor="middle" font-weight="normal" font-style="italic" fill="#1e1e1e" stroke="#1e1e1e" stroke-width="0.2" transform="rotate(-30 643.80 468.80)">Il-1β</text>
<text x="665.00" y="471.80" font-size="8.9" text-anchor="middle" font-weight="normal" font-style="italic" fill="#1e1e1e" stroke="#1e1e1e" stroke-width="0.2" transform="rotate(-30 665.00 471.80)">Cxcl10</text>
<line x1="458.50" y1="480.20" x2="551.00" y2="480.20" stroke="#1e1e1e" stroke-width="0.9" stroke-linecap="butt"/>
<line x1="569.10" y1="480.20" x2="683.70" y2="480.20" stroke="#1e1e1e" stroke-width="0.9" stroke-linecap="butt"/>
<text x="502.60" y="497.50" font-size="10.05" text-anchor="middle" font-weight="normal" font-style="normal" fill="#1e1e1e" stroke="#1e1e1e" stroke-width="0.2">M2 macrophage-related</text>
<text x="623.90" y="497.50" font-size="10.05" text-anchor="middle" font-weight="normal" font-style="normal" fill="#1e1e1e" stroke="#1e1e1e" stroke-width="0.2">M1 macrophage-related</text>
<rect x="565.00" y="269.00" width="21.00" height="8.60" fill="#fff" stroke="#333" stroke-width="0.9"/>
<rect x="565.00" y="281.00" width="21.00" height="8.30" fill="#000" stroke="#000" stroke-width="0.9"/>
<rect x="565.00" y="292.50" width="21.00" height="8.80" fill="url(#hatchL)" stroke="#333" stroke-width="0.9"/>
<text x="593.00" y="276.50" font-size="8.6" text-anchor="start" font-weight="normal" font-style="normal" fill="#1e1e1e" stroke="#1e1e1e" stroke-width="0.2">Medium</text>
<text x="593.00" y="288.60" font-size="8.6" text-anchor="start" font-weight="normal" font-style="normal" fill="#1e1e1e" stroke="#1e1e1e" stroke-width="0.2">PRI</text>
<text x="593.00" y="300.40" font-size="8.6" text-anchor="start" font-weight="normal" font-style="normal" fill="#1e1e1e" stroke="#1e1e1e" stroke-width="0.2">20P</text>
<text x="469.93" y="391.55" font-size="10" text-anchor="middle" font-weight="bold" font-style="normal" fill="#4a4a4a" letter-spacing="1.26">*</text>
<text x="469.30" y="397.00" font-size="7.2" text-anchor="middle" font-weight="normal" font-style="normal" fill="#777" stroke="#777" stroke-width="0.2">+</text>
<text x="494.03" y="270.15" font-size="10" text-anchor="middle" font-weight="bold" font-style="normal" fill="#4a4a4a" letter-spacing="1.26">*</text>
<text x="493.40" y="275.40" font-size="7.2" text-anchor="middle" font-weight="normal" font-style="normal" fill="#777" stroke="#777" stroke-width="0.2">+</text>
<text x="518.13" y="304.15" font-size="10" text-anchor="middle" font-weight="bold" font-style="normal" fill="#4a4a4a" letter-spacing="1.26">*</text>
<text x="517.70" y="310.65" font-size="7.0" text-anchor="middle" font-weight="bold" font-style="italic" fill="#222">#</text>
<text x="582.33" y="414.45" font-size="10" text-anchor="middle" font-weight="bold" font-style="normal" fill="#4a4a4a" letter-spacing="1.26">***</text>
<path d="M578.5,437.5 L581.5,416.6 L583.5,437.5" fill="none" stroke="#333" stroke-width="0.9" stroke-dasharray="2.8,1.8"/>
<text x="626.03" y="316.45" font-size="10" text-anchor="middle" font-weight="bold" font-style="normal" fill="#4a4a4a" letter-spacing="1.26">***</text>
<text x="625.90" y="323.10" font-size="6.3" text-anchor="middle" font-weight="bold" font-style="italic" fill="#222">##</text>
<text x="677.33" y="414.45" font-size="10" text-anchor="middle" font-weight="bold" font-style="normal" fill="#4a4a4a" letter-spacing="1.26">***</text>
<path d="M674.4,437.5 L677.2,416.8 L679.2,437.5" fill="none" stroke="#333" stroke-width="0.9" stroke-dasharray="2.8,1.8"/>
</svg></body></html>
